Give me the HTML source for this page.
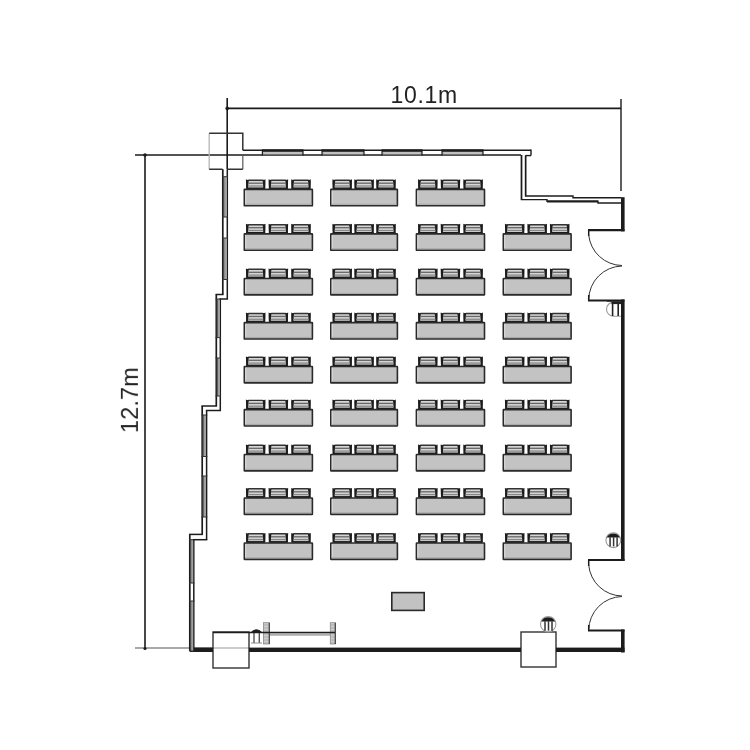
<!DOCTYPE html>
<html><head><meta charset="utf-8"><style>
html,body{margin:0;padding:0;background:#fff;}
body{width:750px;height:750px;overflow:hidden;}
svg{display:block;}
</style></head><body>
<svg width="750" height="750" viewBox="0 0 750 750">
<rect width="750" height="750" fill="#fff"/>
<line x1="227.2" y1="98" x2="227.2" y2="169" stroke="#1a1a1a" stroke-width="1.6"/>
<line x1="621" y1="99" x2="621" y2="191" stroke="#1a1a1a" stroke-width="1.4"/>
<line x1="227.2" y1="108.4" x2="621" y2="108.4" stroke="#1a1a1a" stroke-width="1.6"/>
<line x1="135" y1="155" x2="243" y2="155" stroke="#1a1a1a" stroke-width="1.6"/>
<line x1="145" y1="155" x2="145" y2="649" stroke="#1a1a1a" stroke-width="1.6"/>
<line x1="135" y1="648" x2="213" y2="648" stroke="#555" stroke-width="1.2"/>
<line x1="213" y1="648" x2="249" y2="648" stroke="#999" stroke-width="1.0"/>
<circle cx="227.2" cy="108.4" r="1.8" fill="#1c1c1c"/>
<circle cx="145" cy="155" r="1.8" fill="#1c1c1c"/>
<circle cx="145" cy="648.5" r="1.6" fill="#1c1c1c"/>
<defs><filter id="gs" x="-5%" y="-5%" width="110%" height="110%"><feOffset dx="0" dy="0"/></filter></defs>
<text filter="url(#gs)" x="390.4" y="103.2" font-family="Liberation Sans" font-size="23" textLength="66.8" lengthAdjust="spacing" fill="#222">10.1m</text>
<text filter="url(#gs)" transform="translate(137.9,433.1) rotate(-90)" font-family="Liberation Sans" font-size="23.5" textLength="65.8" lengthAdjust="spacing" fill="#222">12.7m</text>
<path d="M209.2,169.2 L209.2,133.2" fill="none" stroke="#b5b5b5" stroke-width="1.3"/>
<path d="M209.2,133.2 L242.8,133.2 L242.8,150.3" fill="none" stroke="#333" stroke-width="1.5"/>
<path d="M242.8,155 L242.8,169.2" fill="none" stroke="#666" stroke-width="1.3"/>
<path d="M242.8,169.2 L227.3,169.2 M222.5,169.2 L209.2,169.2" fill="none" stroke="#333" stroke-width="1.5"/>
<rect x="213" y="632" width="36" height="36" fill="none" stroke="#333" stroke-width="1.4" />
<rect x="521" y="632" width="35" height="35" fill="none" stroke="#333" stroke-width="1.4" />
<line x1="242.8" y1="150.3" x2="531" y2="150.3" stroke="#1c1c1c" stroke-width="1.6"/>
<line x1="243" y1="155" x2="521" y2="155" stroke="#1c1c1c" stroke-width="1.4"/>
<line x1="531" y1="149.6" x2="531" y2="155.6" stroke="#1c1c1c" stroke-width="1.4"/>
<line x1="525.6" y1="155.6" x2="531" y2="155.6" stroke="#1c1c1c" stroke-width="1.4"/>
<rect x="262.4" y="149.3" width="40.60000000000002" height="2.6" fill="#1c1c1c" stroke="none" stroke-width="0" />
<rect x="262.4" y="151.9" width="40.60000000000002" height="2.4" fill="#b4b4b4" stroke="none" stroke-width="0" />
<line x1="264.4" y1="153.0" x2="301" y2="153.0" stroke="#d8d8d8" stroke-width="0.7"/>
<line x1="262.4" y1="149.5" x2="262.4" y2="155.5" stroke="#1c1c1c" stroke-width="1.2"/>
<line x1="303" y1="149.5" x2="303" y2="155.5" stroke="#1c1c1c" stroke-width="1.2"/>
<rect x="322" y="149.3" width="42" height="2.6" fill="#1c1c1c" stroke="none" stroke-width="0" />
<rect x="322" y="151.9" width="42" height="2.4" fill="#b4b4b4" stroke="none" stroke-width="0" />
<line x1="324" y1="153.0" x2="362" y2="153.0" stroke="#d8d8d8" stroke-width="0.7"/>
<line x1="322" y1="149.5" x2="322" y2="155.5" stroke="#1c1c1c" stroke-width="1.2"/>
<line x1="364" y1="149.5" x2="364" y2="155.5" stroke="#1c1c1c" stroke-width="1.2"/>
<rect x="382" y="149.3" width="40" height="2.6" fill="#1c1c1c" stroke="none" stroke-width="0" />
<rect x="382" y="151.9" width="40" height="2.4" fill="#b4b4b4" stroke="none" stroke-width="0" />
<line x1="384" y1="153.0" x2="420" y2="153.0" stroke="#d8d8d8" stroke-width="0.7"/>
<line x1="382" y1="149.5" x2="382" y2="155.5" stroke="#1c1c1c" stroke-width="1.2"/>
<line x1="422" y1="149.5" x2="422" y2="155.5" stroke="#1c1c1c" stroke-width="1.2"/>
<rect x="442" y="149.3" width="41" height="2.6" fill="#1c1c1c" stroke="none" stroke-width="0" />
<rect x="442" y="151.9" width="41" height="2.4" fill="#b4b4b4" stroke="none" stroke-width="0" />
<line x1="444" y1="153.0" x2="481" y2="153.0" stroke="#d8d8d8" stroke-width="0.7"/>
<line x1="442" y1="149.5" x2="442" y2="155.5" stroke="#1c1c1c" stroke-width="1.2"/>
<line x1="483" y1="149.5" x2="483" y2="155.5" stroke="#1c1c1c" stroke-width="1.2"/>
<line x1="521.5" y1="155" x2="521.5" y2="200" stroke="#1c1c1c" stroke-width="1.4"/>
<line x1="525.6" y1="155.6" x2="525.6" y2="196" stroke="#1c1c1c" stroke-width="1.4"/>
<path d="M525.6,155.6 L525.6,196 L573,196 L573,197.8 L621,197.8" fill="none" stroke="#1c1c1c" stroke-width="1.4"/>
<path d="M521.5,155 L521.5,199.6 L547,199.6 L547,201.2 L598,201.2 L598,203 L621,203" fill="none" stroke="#1c1c1c" stroke-width="1.4"/>
<line x1="547" y1="201.4" x2="598" y2="201.4" stroke="#1c1c1c" stroke-width="2.0"/>
<rect x="621" y="197.2" width="3.6" height="34.20000000000002" fill="#1c1c1c" stroke="none" stroke-width="0" />
<line x1="588" y1="230.2" x2="624.5" y2="230.2" stroke="#1c1c1c" stroke-width="2.2"/>
<line x1="588.7" y1="229.5" x2="588.7" y2="236" stroke="#1c1c1c" stroke-width="1.5"/>
<path d="M588.7,235 A34,34 0 0 0 622,265.5" fill="none" stroke="#333" stroke-width="1"/>
<path d="M622,266 A34,34 0 0 0 588.7,299.5" fill="none" stroke="#333" stroke-width="1"/>
<line x1="588.7" y1="295" x2="588.7" y2="301" stroke="#1c1c1c" stroke-width="1.5"/>
<line x1="588" y1="300.5" x2="624.5" y2="300.5" stroke="#1c1c1c" stroke-width="2.2"/>
<rect x="621" y="299.5" width="3.6" height="261.5" fill="#1c1c1c" stroke="none" stroke-width="0" />
<line x1="588" y1="560" x2="624.5" y2="560" stroke="#1c1c1c" stroke-width="2.2"/>
<line x1="588.7" y1="559.2" x2="588.7" y2="566" stroke="#1c1c1c" stroke-width="1.5"/>
<path d="M588.7,565 A34,34 0 0 0 622,596" fill="none" stroke="#333" stroke-width="1"/>
<path d="M622,596.5 A34,34 0 0 0 588.7,630" fill="none" stroke="#333" stroke-width="1"/>
<line x1="588.7" y1="625" x2="588.7" y2="631" stroke="#1c1c1c" stroke-width="1.5"/>
<line x1="588" y1="630.5" x2="624.5" y2="630.5" stroke="#1c1c1c" stroke-width="2.2"/>
<rect x="621" y="629.5" width="3.6" height="23.0" fill="#1c1c1c" stroke="none" stroke-width="0" />
<rect x="190" y="647.6" width="23" height="4.4" fill="#1c1c1c" stroke="none" stroke-width="0" />
<rect x="249" y="647.6" width="272" height="4.4" fill="#1c1c1c" stroke="none" stroke-width="0" />
<rect x="556" y="647.6" width="68.5" height="4.4" fill="#1c1c1c" stroke="none" stroke-width="0" />
<line x1="222.8" y1="169.2" x2="222.8" y2="294.5" stroke="#1c1c1c" stroke-width="1.7"/>
<line x1="227.3" y1="169.2" x2="227.3" y2="299" stroke="#1c1c1c" stroke-width="1.5"/>
<rect x="223.4" y="176.7" width="3.3" height="40.30000000000001" fill="#a0a0a0" stroke="none" stroke-width="0" />
<line x1="223.70000000000002" y1="176.7" x2="223.70000000000002" y2="217" stroke="#333" stroke-width="0.9"/>
<line x1="222.05" y1="176.7" x2="228.05" y2="176.7" stroke="#333" stroke-width="1.0"/>
<line x1="222.05" y1="217" x2="228.05" y2="217" stroke="#333" stroke-width="1.0"/>
<rect x="223.4" y="238" width="3.3" height="41.5" fill="#a0a0a0" stroke="none" stroke-width="0" />
<line x1="223.70000000000002" y1="238" x2="223.70000000000002" y2="279.5" stroke="#333" stroke-width="0.9"/>
<line x1="222.05" y1="238" x2="228.05" y2="238" stroke="#333" stroke-width="1.0"/>
<line x1="222.05" y1="279.5" x2="228.05" y2="279.5" stroke="#333" stroke-width="1.0"/>
<line x1="216.3" y1="294.5" x2="216.3" y2="406" stroke="#1c1c1c" stroke-width="1.7"/>
<line x1="220.3" y1="299" x2="220.3" y2="410.5" stroke="#1c1c1c" stroke-width="1.5"/>
<rect x="216.9" y="299" width="2.8" height="38.60000000000002" fill="#a0a0a0" stroke="none" stroke-width="0" />
<line x1="217.20000000000002" y1="299" x2="217.20000000000002" y2="337.6" stroke="#333" stroke-width="0.9"/>
<line x1="215.55" y1="299" x2="221.05" y2="299" stroke="#333" stroke-width="1.0"/>
<line x1="215.55" y1="337.6" x2="221.05" y2="337.6" stroke="#333" stroke-width="1.0"/>
<rect x="216.9" y="358" width="2.8" height="38" fill="#a0a0a0" stroke="none" stroke-width="0" />
<line x1="217.20000000000002" y1="358" x2="217.20000000000002" y2="396" stroke="#333" stroke-width="0.9"/>
<line x1="215.55" y1="358" x2="221.05" y2="358" stroke="#333" stroke-width="1.0"/>
<line x1="215.55" y1="396" x2="221.05" y2="396" stroke="#333" stroke-width="1.0"/>
<line x1="202.2" y1="406" x2="202.2" y2="534.4" stroke="#1c1c1c" stroke-width="1.7"/>
<line x1="206.6" y1="410.5" x2="206.6" y2="539.7" stroke="#1c1c1c" stroke-width="1.5"/>
<rect x="202.79999999999998" y="415" width="3.2000000000000055" height="41.5" fill="#a0a0a0" stroke="none" stroke-width="0" />
<line x1="203.1" y1="415" x2="203.1" y2="456.5" stroke="#333" stroke-width="0.9"/>
<line x1="201.45" y1="415" x2="207.35" y2="415" stroke="#333" stroke-width="1.0"/>
<line x1="201.45" y1="456.5" x2="207.35" y2="456.5" stroke="#333" stroke-width="1.0"/>
<rect x="202.79999999999998" y="476" width="3.2000000000000055" height="41" fill="#a0a0a0" stroke="none" stroke-width="0" />
<line x1="203.1" y1="476" x2="203.1" y2="517" stroke="#333" stroke-width="0.9"/>
<line x1="201.45" y1="476" x2="207.35" y2="476" stroke="#333" stroke-width="1.0"/>
<line x1="201.45" y1="517" x2="207.35" y2="517" stroke="#333" stroke-width="1.0"/>
<line x1="189.8" y1="534.4" x2="189.8" y2="651" stroke="#1c1c1c" stroke-width="1.7"/>
<line x1="193.8" y1="539.7" x2="193.8" y2="648" stroke="#1c1c1c" stroke-width="1.5"/>
<rect x="190.4" y="539.7" width="2.8" height="43.299999999999955" fill="#a0a0a0" stroke="none" stroke-width="0" />
<line x1="190.70000000000002" y1="539.7" x2="190.70000000000002" y2="583" stroke="#333" stroke-width="0.9"/>
<line x1="189.05" y1="539.7" x2="194.55" y2="539.7" stroke="#333" stroke-width="1.0"/>
<line x1="189.05" y1="583" x2="194.55" y2="583" stroke="#333" stroke-width="1.0"/>
<rect x="190.4" y="601" width="2.8" height="50" fill="#a0a0a0" stroke="none" stroke-width="0" />
<line x1="190.70000000000002" y1="601" x2="190.70000000000002" y2="651" stroke="#333" stroke-width="0.9"/>
<line x1="189.05" y1="601" x2="194.55" y2="601" stroke="#333" stroke-width="1.0"/>
<line x1="189.05" y1="651" x2="194.55" y2="651" stroke="#333" stroke-width="1.0"/>
<line x1="215.55" y1="294.5" x2="223.55" y2="294.5" stroke="#1c1c1c" stroke-width="1.5"/>
<line x1="219.55" y1="299" x2="228.05" y2="299" stroke="#1c1c1c" stroke-width="1.5"/>
<line x1="201.45" y1="406" x2="217.05" y2="406" stroke="#1c1c1c" stroke-width="1.5"/>
<line x1="205.85" y1="410.5" x2="221.05" y2="410.5" stroke="#1c1c1c" stroke-width="1.5"/>
<line x1="189.05" y1="534.4" x2="202.95" y2="534.4" stroke="#1c1c1c" stroke-width="1.5"/>
<line x1="193.05" y1="539.7" x2="207.35" y2="539.7" stroke="#1c1c1c" stroke-width="1.5"/>
<rect x="263.5" y="633.4" width="71.5" height="2.4" fill="#b0b0b0" stroke="none" stroke-width="0" />
<rect x="263.5" y="622.7" width="5.8" height="21.3" fill="#cfcfcf" stroke="#888" stroke-width="0.8" />
<line x1="264.0" y1="625" x2="268.8" y2="625" stroke="#999" stroke-width="0.7"/>
<line x1="264.0" y1="628" x2="268.8" y2="628" stroke="#999" stroke-width="0.7"/>
<line x1="264.0" y1="631" x2="268.8" y2="631" stroke="#999" stroke-width="0.7"/>
<line x1="264.0" y1="634" x2="268.8" y2="634" stroke="#999" stroke-width="0.7"/>
<line x1="264.0" y1="637" x2="268.8" y2="637" stroke="#999" stroke-width="0.7"/>
<line x1="264.0" y1="640" x2="268.8" y2="640" stroke="#999" stroke-width="0.7"/>
<line x1="264.0" y1="643" x2="268.8" y2="643" stroke="#999" stroke-width="0.7"/>
<line x1="269.3" y1="622.7" x2="269.3" y2="644" stroke="#444" stroke-width="1.2"/>
<rect x="330.3" y="622.7" width="5.0" height="21.3" fill="#cfcfcf" stroke="#888" stroke-width="0.8" />
<line x1="330.8" y1="625" x2="334.8" y2="625" stroke="#999" stroke-width="0.7"/>
<line x1="330.8" y1="628" x2="334.8" y2="628" stroke="#999" stroke-width="0.7"/>
<line x1="330.8" y1="631" x2="334.8" y2="631" stroke="#999" stroke-width="0.7"/>
<line x1="330.8" y1="634" x2="334.8" y2="634" stroke="#999" stroke-width="0.7"/>
<line x1="330.8" y1="637" x2="334.8" y2="637" stroke="#999" stroke-width="0.7"/>
<line x1="330.8" y1="640" x2="334.8" y2="640" stroke="#999" stroke-width="0.7"/>
<line x1="330.8" y1="643" x2="334.8" y2="643" stroke="#999" stroke-width="0.7"/>
<line x1="335.3" y1="622.7" x2="335.3" y2="644" stroke="#444" stroke-width="1.2"/>
<path d="M250.5,632.5 Q256,626 262.5,632.5 Z" fill="#1c1c1c"/>
<line x1="254" y1="633" x2="254" y2="643" stroke="#555" stroke-width="1.4"/>
<line x1="259.3" y1="633" x2="259.3" y2="643" stroke="#555" stroke-width="1.4"/>
<line x1="251" y1="643" x2="262" y2="643" stroke="#888" stroke-width="1.0"/>
<line x1="213" y1="632.5" x2="335" y2="632.5" stroke="#1c1c1c" stroke-width="1.6"/>
<path d="M621,302.2 L613.5,302.2 A7,7 0 0 0 613.5,316.2 L621,316.2" fill="#fff" stroke="#999" stroke-width="1.1"/>
<line x1="612.6" y1="302" x2="612.6" y2="316" stroke="#222" stroke-width="1.6"/>
<line x1="618.2" y1="302" x2="618.2" y2="316" stroke="#222" stroke-width="1.6"/>
<line x1="606.8" y1="301.2" x2="621" y2="301.2" stroke="#222" stroke-width="1.0"/>
<rect x="611.5" y="301.5" width="9.5" height="2.6" fill="#222" stroke="none" stroke-width="0" />
<circle cx="613.3" cy="540.2" r="7.4" fill="#fff" stroke="#9a9a9a" stroke-width="1.1"/>
<path d="M606.6999999999999,537.6 A7.4,7.4 0 0 1 619.9,537.6 Z" fill="#1c1c1c"/>
<line x1="610.0999999999999" y1="537.2" x2="610.0999999999999" y2="546.4" stroke="#333" stroke-width="1.5"/>
<line x1="613.5999999999999" y1="537.2" x2="613.5999999999999" y2="546.4" stroke="#333" stroke-width="1.5"/>
<line x1="617.0999999999999" y1="537.2" x2="617.0999999999999" y2="546.4" stroke="#333" stroke-width="1.5"/>
<circle cx="548.2" cy="624.2" r="7.7" fill="#fff" stroke="#9a9a9a" stroke-width="1.1"/>
<path d="M541.3,621.6 A7.7,7.7 0 0 1 555.1000000000001,621.6 Z" fill="#1c1c1c"/>
<line x1="545.0" y1="621.2" x2="545.0" y2="630.7" stroke="#333" stroke-width="1.5"/>
<line x1="548.5" y1="621.2" x2="548.5" y2="630.7" stroke="#333" stroke-width="1.5"/>
<line x1="552.0" y1="621.2" x2="552.0" y2="630.7" stroke="#333" stroke-width="1.5"/>
<g transform="translate(245.7,179.0)"><rect x="1.2" y="1.2" width="17.6" height="8.600000000000001" fill="#d6d6d6" stroke="#333" stroke-width="1.4" rx="2"/><path d="M0.2,0.3 L3.0,1.5 L2.3,9.8 L0.6,9.8 Z" fill="#1c1c1c"/><path d="M19.8,0.3 L17.0,1.5 L17.7,9.8 L19.4,9.8 Z" fill="#1c1c1c"/><line x1="2.6" y1="4.2" x2="17.4" y2="4.2" stroke="#666" stroke-width="1.3"/><line x1="2.6" y1="7.0" x2="17.4" y2="7.0" stroke="#888" stroke-width="1.3"/><line x1="0.5" y1="9.200000000000001" x2="19.5" y2="9.200000000000001" stroke="#1c1c1c" stroke-width="1.4"/></g>
<g transform="translate(268.34999999999997,179.0)"><rect x="1.2" y="1.2" width="17.6" height="8.600000000000001" fill="#d6d6d6" stroke="#333" stroke-width="1.4" rx="2"/><path d="M0.2,0.3 L3.0,1.5 L2.3,9.8 L0.6,9.8 Z" fill="#1c1c1c"/><path d="M19.8,0.3 L17.0,1.5 L17.7,9.8 L19.4,9.8 Z" fill="#1c1c1c"/><line x1="2.6" y1="4.2" x2="17.4" y2="4.2" stroke="#666" stroke-width="1.3"/><line x1="2.6" y1="7.0" x2="17.4" y2="7.0" stroke="#888" stroke-width="1.3"/><line x1="0.5" y1="9.200000000000001" x2="19.5" y2="9.200000000000001" stroke="#1c1c1c" stroke-width="1.4"/></g>
<g transform="translate(291.0,179.0)"><rect x="1.2" y="1.2" width="17.6" height="8.600000000000001" fill="#d6d6d6" stroke="#333" stroke-width="1.4" rx="2"/><path d="M0.2,0.3 L3.0,1.5 L2.3,9.8 L0.6,9.8 Z" fill="#1c1c1c"/><path d="M19.8,0.3 L17.0,1.5 L17.7,9.8 L19.4,9.8 Z" fill="#1c1c1c"/><line x1="2.6" y1="4.2" x2="17.4" y2="4.2" stroke="#666" stroke-width="1.3"/><line x1="2.6" y1="7.0" x2="17.4" y2="7.0" stroke="#888" stroke-width="1.3"/><line x1="0.5" y1="9.200000000000001" x2="19.5" y2="9.200000000000001" stroke="#1c1c1c" stroke-width="1.4"/></g>
<rect x="244.3" y="189.4" width="68.1" height="16.4" fill="#c3c3c3" stroke="#2a2a2a" stroke-width="1.6" rx="0.4"/>
<line x1="245.7" y1="190.7" x2="245.7" y2="204.5" stroke="#dcdcdc" stroke-width="1"/>
<line x1="245.1" y1="204.2" x2="311.59999999999997" y2="204.2" stroke="#a8a8a8" stroke-width="1"/>
<g transform="translate(332.2,179.0)"><rect x="1.2" y="1.2" width="17.6" height="8.600000000000001" fill="#d6d6d6" stroke="#333" stroke-width="1.4" rx="2"/><path d="M0.2,0.3 L3.0,1.5 L2.3,9.8 L0.6,9.8 Z" fill="#1c1c1c"/><path d="M19.8,0.3 L17.0,1.5 L17.7,9.8 L19.4,9.8 Z" fill="#1c1c1c"/><line x1="2.6" y1="4.2" x2="17.4" y2="4.2" stroke="#666" stroke-width="1.3"/><line x1="2.6" y1="7.0" x2="17.4" y2="7.0" stroke="#888" stroke-width="1.3"/><line x1="0.5" y1="9.200000000000001" x2="19.5" y2="9.200000000000001" stroke="#1c1c1c" stroke-width="1.4"/></g>
<g transform="translate(354.09999999999997,179.0)"><rect x="1.2" y="1.2" width="17.6" height="8.600000000000001" fill="#d6d6d6" stroke="#333" stroke-width="1.4" rx="2"/><path d="M0.2,0.3 L3.0,1.5 L2.3,9.8 L0.6,9.8 Z" fill="#1c1c1c"/><path d="M19.8,0.3 L17.0,1.5 L17.7,9.8 L19.4,9.8 Z" fill="#1c1c1c"/><line x1="2.6" y1="4.2" x2="17.4" y2="4.2" stroke="#666" stroke-width="1.3"/><line x1="2.6" y1="7.0" x2="17.4" y2="7.0" stroke="#888" stroke-width="1.3"/><line x1="0.5" y1="9.200000000000001" x2="19.5" y2="9.200000000000001" stroke="#1c1c1c" stroke-width="1.4"/></g>
<g transform="translate(376.0,179.0)"><rect x="1.2" y="1.2" width="17.6" height="8.600000000000001" fill="#d6d6d6" stroke="#333" stroke-width="1.4" rx="2"/><path d="M0.2,0.3 L3.0,1.5 L2.3,9.8 L0.6,9.8 Z" fill="#1c1c1c"/><path d="M19.8,0.3 L17.0,1.5 L17.7,9.8 L19.4,9.8 Z" fill="#1c1c1c"/><line x1="2.6" y1="4.2" x2="17.4" y2="4.2" stroke="#666" stroke-width="1.3"/><line x1="2.6" y1="7.0" x2="17.4" y2="7.0" stroke="#888" stroke-width="1.3"/><line x1="0.5" y1="9.200000000000001" x2="19.5" y2="9.200000000000001" stroke="#1c1c1c" stroke-width="1.4"/></g>
<rect x="330.8" y="189.4" width="66.6" height="16.4" fill="#c3c3c3" stroke="#2a2a2a" stroke-width="1.6" rx="0.4"/>
<line x1="332.20000000000005" y1="190.7" x2="332.20000000000005" y2="204.5" stroke="#dcdcdc" stroke-width="1"/>
<line x1="331.6" y1="204.2" x2="396.59999999999997" y2="204.2" stroke="#a8a8a8" stroke-width="1"/>
<g transform="translate(417.8,179.0)"><rect x="1.2" y="1.2" width="17.6" height="8.600000000000001" fill="#d6d6d6" stroke="#333" stroke-width="1.4" rx="2"/><path d="M0.2,0.3 L3.0,1.5 L2.3,9.8 L0.6,9.8 Z" fill="#1c1c1c"/><path d="M19.8,0.3 L17.0,1.5 L17.7,9.8 L19.4,9.8 Z" fill="#1c1c1c"/><line x1="2.6" y1="4.2" x2="17.4" y2="4.2" stroke="#666" stroke-width="1.3"/><line x1="2.6" y1="7.0" x2="17.4" y2="7.0" stroke="#888" stroke-width="1.3"/><line x1="0.5" y1="9.200000000000001" x2="19.5" y2="9.200000000000001" stroke="#1c1c1c" stroke-width="1.4"/></g>
<g transform="translate(440.45,179.0)"><rect x="1.2" y="1.2" width="17.6" height="8.600000000000001" fill="#d6d6d6" stroke="#333" stroke-width="1.4" rx="2"/><path d="M0.2,0.3 L3.0,1.5 L2.3,9.8 L0.6,9.8 Z" fill="#1c1c1c"/><path d="M19.8,0.3 L17.0,1.5 L17.7,9.8 L19.4,9.8 Z" fill="#1c1c1c"/><line x1="2.6" y1="4.2" x2="17.4" y2="4.2" stroke="#666" stroke-width="1.3"/><line x1="2.6" y1="7.0" x2="17.4" y2="7.0" stroke="#888" stroke-width="1.3"/><line x1="0.5" y1="9.200000000000001" x2="19.5" y2="9.200000000000001" stroke="#1c1c1c" stroke-width="1.4"/></g>
<g transform="translate(463.1,179.0)"><rect x="1.2" y="1.2" width="17.6" height="8.600000000000001" fill="#d6d6d6" stroke="#333" stroke-width="1.4" rx="2"/><path d="M0.2,0.3 L3.0,1.5 L2.3,9.8 L0.6,9.8 Z" fill="#1c1c1c"/><path d="M19.8,0.3 L17.0,1.5 L17.7,9.8 L19.4,9.8 Z" fill="#1c1c1c"/><line x1="2.6" y1="4.2" x2="17.4" y2="4.2" stroke="#666" stroke-width="1.3"/><line x1="2.6" y1="7.0" x2="17.4" y2="7.0" stroke="#888" stroke-width="1.3"/><line x1="0.5" y1="9.200000000000001" x2="19.5" y2="9.200000000000001" stroke="#1c1c1c" stroke-width="1.4"/></g>
<rect x="416.40000000000003" y="189.4" width="68.1" height="16.4" fill="#c3c3c3" stroke="#2a2a2a" stroke-width="1.6" rx="0.4"/>
<line x1="417.80000000000007" y1="190.7" x2="417.80000000000007" y2="204.5" stroke="#dcdcdc" stroke-width="1"/>
<line x1="417.20000000000005" y1="204.2" x2="483.7" y2="204.2" stroke="#a8a8a8" stroke-width="1"/>
<g transform="translate(245.7,223.5)"><rect x="1.2" y="1.2" width="17.6" height="8.600000000000001" fill="#d6d6d6" stroke="#333" stroke-width="1.4" rx="2"/><path d="M0.2,0.3 L3.0,1.5 L2.3,9.8 L0.6,9.8 Z" fill="#1c1c1c"/><path d="M19.8,0.3 L17.0,1.5 L17.7,9.8 L19.4,9.8 Z" fill="#1c1c1c"/><line x1="2.6" y1="4.2" x2="17.4" y2="4.2" stroke="#666" stroke-width="1.3"/><line x1="2.6" y1="7.0" x2="17.4" y2="7.0" stroke="#888" stroke-width="1.3"/><line x1="0.5" y1="9.200000000000001" x2="19.5" y2="9.200000000000001" stroke="#1c1c1c" stroke-width="1.4"/></g>
<g transform="translate(268.34999999999997,223.5)"><rect x="1.2" y="1.2" width="17.6" height="8.600000000000001" fill="#d6d6d6" stroke="#333" stroke-width="1.4" rx="2"/><path d="M0.2,0.3 L3.0,1.5 L2.3,9.8 L0.6,9.8 Z" fill="#1c1c1c"/><path d="M19.8,0.3 L17.0,1.5 L17.7,9.8 L19.4,9.8 Z" fill="#1c1c1c"/><line x1="2.6" y1="4.2" x2="17.4" y2="4.2" stroke="#666" stroke-width="1.3"/><line x1="2.6" y1="7.0" x2="17.4" y2="7.0" stroke="#888" stroke-width="1.3"/><line x1="0.5" y1="9.200000000000001" x2="19.5" y2="9.200000000000001" stroke="#1c1c1c" stroke-width="1.4"/></g>
<g transform="translate(291.0,223.5)"><rect x="1.2" y="1.2" width="17.6" height="8.600000000000001" fill="#d6d6d6" stroke="#333" stroke-width="1.4" rx="2"/><path d="M0.2,0.3 L3.0,1.5 L2.3,9.8 L0.6,9.8 Z" fill="#1c1c1c"/><path d="M19.8,0.3 L17.0,1.5 L17.7,9.8 L19.4,9.8 Z" fill="#1c1c1c"/><line x1="2.6" y1="4.2" x2="17.4" y2="4.2" stroke="#666" stroke-width="1.3"/><line x1="2.6" y1="7.0" x2="17.4" y2="7.0" stroke="#888" stroke-width="1.3"/><line x1="0.5" y1="9.200000000000001" x2="19.5" y2="9.200000000000001" stroke="#1c1c1c" stroke-width="1.4"/></g>
<rect x="244.3" y="233.9" width="68.1" height="16.4" fill="#c3c3c3" stroke="#2a2a2a" stroke-width="1.6" rx="0.4"/>
<line x1="245.7" y1="235.2" x2="245.7" y2="249.0" stroke="#dcdcdc" stroke-width="1"/>
<line x1="245.1" y1="248.7" x2="311.59999999999997" y2="248.7" stroke="#a8a8a8" stroke-width="1"/>
<g transform="translate(332.2,223.5)"><rect x="1.2" y="1.2" width="17.6" height="8.600000000000001" fill="#d6d6d6" stroke="#333" stroke-width="1.4" rx="2"/><path d="M0.2,0.3 L3.0,1.5 L2.3,9.8 L0.6,9.8 Z" fill="#1c1c1c"/><path d="M19.8,0.3 L17.0,1.5 L17.7,9.8 L19.4,9.8 Z" fill="#1c1c1c"/><line x1="2.6" y1="4.2" x2="17.4" y2="4.2" stroke="#666" stroke-width="1.3"/><line x1="2.6" y1="7.0" x2="17.4" y2="7.0" stroke="#888" stroke-width="1.3"/><line x1="0.5" y1="9.200000000000001" x2="19.5" y2="9.200000000000001" stroke="#1c1c1c" stroke-width="1.4"/></g>
<g transform="translate(354.09999999999997,223.5)"><rect x="1.2" y="1.2" width="17.6" height="8.600000000000001" fill="#d6d6d6" stroke="#333" stroke-width="1.4" rx="2"/><path d="M0.2,0.3 L3.0,1.5 L2.3,9.8 L0.6,9.8 Z" fill="#1c1c1c"/><path d="M19.8,0.3 L17.0,1.5 L17.7,9.8 L19.4,9.8 Z" fill="#1c1c1c"/><line x1="2.6" y1="4.2" x2="17.4" y2="4.2" stroke="#666" stroke-width="1.3"/><line x1="2.6" y1="7.0" x2="17.4" y2="7.0" stroke="#888" stroke-width="1.3"/><line x1="0.5" y1="9.200000000000001" x2="19.5" y2="9.200000000000001" stroke="#1c1c1c" stroke-width="1.4"/></g>
<g transform="translate(376.0,223.5)"><rect x="1.2" y="1.2" width="17.6" height="8.600000000000001" fill="#d6d6d6" stroke="#333" stroke-width="1.4" rx="2"/><path d="M0.2,0.3 L3.0,1.5 L2.3,9.8 L0.6,9.8 Z" fill="#1c1c1c"/><path d="M19.8,0.3 L17.0,1.5 L17.7,9.8 L19.4,9.8 Z" fill="#1c1c1c"/><line x1="2.6" y1="4.2" x2="17.4" y2="4.2" stroke="#666" stroke-width="1.3"/><line x1="2.6" y1="7.0" x2="17.4" y2="7.0" stroke="#888" stroke-width="1.3"/><line x1="0.5" y1="9.200000000000001" x2="19.5" y2="9.200000000000001" stroke="#1c1c1c" stroke-width="1.4"/></g>
<rect x="330.8" y="233.9" width="66.6" height="16.4" fill="#c3c3c3" stroke="#2a2a2a" stroke-width="1.6" rx="0.4"/>
<line x1="332.20000000000005" y1="235.2" x2="332.20000000000005" y2="249.0" stroke="#dcdcdc" stroke-width="1"/>
<line x1="331.6" y1="248.7" x2="396.59999999999997" y2="248.7" stroke="#a8a8a8" stroke-width="1"/>
<g transform="translate(417.8,223.5)"><rect x="1.2" y="1.2" width="17.6" height="8.600000000000001" fill="#d6d6d6" stroke="#333" stroke-width="1.4" rx="2"/><path d="M0.2,0.3 L3.0,1.5 L2.3,9.8 L0.6,9.8 Z" fill="#1c1c1c"/><path d="M19.8,0.3 L17.0,1.5 L17.7,9.8 L19.4,9.8 Z" fill="#1c1c1c"/><line x1="2.6" y1="4.2" x2="17.4" y2="4.2" stroke="#666" stroke-width="1.3"/><line x1="2.6" y1="7.0" x2="17.4" y2="7.0" stroke="#888" stroke-width="1.3"/><line x1="0.5" y1="9.200000000000001" x2="19.5" y2="9.200000000000001" stroke="#1c1c1c" stroke-width="1.4"/></g>
<g transform="translate(440.45,223.5)"><rect x="1.2" y="1.2" width="17.6" height="8.600000000000001" fill="#d6d6d6" stroke="#333" stroke-width="1.4" rx="2"/><path d="M0.2,0.3 L3.0,1.5 L2.3,9.8 L0.6,9.8 Z" fill="#1c1c1c"/><path d="M19.8,0.3 L17.0,1.5 L17.7,9.8 L19.4,9.8 Z" fill="#1c1c1c"/><line x1="2.6" y1="4.2" x2="17.4" y2="4.2" stroke="#666" stroke-width="1.3"/><line x1="2.6" y1="7.0" x2="17.4" y2="7.0" stroke="#888" stroke-width="1.3"/><line x1="0.5" y1="9.200000000000001" x2="19.5" y2="9.200000000000001" stroke="#1c1c1c" stroke-width="1.4"/></g>
<g transform="translate(463.1,223.5)"><rect x="1.2" y="1.2" width="17.6" height="8.600000000000001" fill="#d6d6d6" stroke="#333" stroke-width="1.4" rx="2"/><path d="M0.2,0.3 L3.0,1.5 L2.3,9.8 L0.6,9.8 Z" fill="#1c1c1c"/><path d="M19.8,0.3 L17.0,1.5 L17.7,9.8 L19.4,9.8 Z" fill="#1c1c1c"/><line x1="2.6" y1="4.2" x2="17.4" y2="4.2" stroke="#666" stroke-width="1.3"/><line x1="2.6" y1="7.0" x2="17.4" y2="7.0" stroke="#888" stroke-width="1.3"/><line x1="0.5" y1="9.200000000000001" x2="19.5" y2="9.200000000000001" stroke="#1c1c1c" stroke-width="1.4"/></g>
<rect x="416.40000000000003" y="233.9" width="68.1" height="16.4" fill="#c3c3c3" stroke="#2a2a2a" stroke-width="1.6" rx="0.4"/>
<line x1="417.80000000000007" y1="235.2" x2="417.80000000000007" y2="249.0" stroke="#dcdcdc" stroke-width="1"/>
<line x1="417.20000000000005" y1="248.7" x2="483.7" y2="248.7" stroke="#a8a8a8" stroke-width="1"/>
<g transform="translate(504.7,223.5)"><rect x="1.2" y="1.2" width="17.6" height="8.600000000000001" fill="#d6d6d6" stroke="#333" stroke-width="1.4" rx="2"/><path d="M0.2,0.3 L3.0,1.5 L2.3,9.8 L0.6,9.8 Z" fill="#1c1c1c"/><path d="M19.8,0.3 L17.0,1.5 L17.7,9.8 L19.4,9.8 Z" fill="#1c1c1c"/><line x1="2.6" y1="4.2" x2="17.4" y2="4.2" stroke="#666" stroke-width="1.3"/><line x1="2.6" y1="7.0" x2="17.4" y2="7.0" stroke="#888" stroke-width="1.3"/><line x1="0.5" y1="9.200000000000001" x2="19.5" y2="9.200000000000001" stroke="#1c1c1c" stroke-width="1.4"/></g>
<g transform="translate(527.1999999999999,223.5)"><rect x="1.2" y="1.2" width="17.6" height="8.600000000000001" fill="#d6d6d6" stroke="#333" stroke-width="1.4" rx="2"/><path d="M0.2,0.3 L3.0,1.5 L2.3,9.8 L0.6,9.8 Z" fill="#1c1c1c"/><path d="M19.8,0.3 L17.0,1.5 L17.7,9.8 L19.4,9.8 Z" fill="#1c1c1c"/><line x1="2.6" y1="4.2" x2="17.4" y2="4.2" stroke="#666" stroke-width="1.3"/><line x1="2.6" y1="7.0" x2="17.4" y2="7.0" stroke="#888" stroke-width="1.3"/><line x1="0.5" y1="9.200000000000001" x2="19.5" y2="9.200000000000001" stroke="#1c1c1c" stroke-width="1.4"/></g>
<g transform="translate(549.6999999999999,223.5)"><rect x="1.2" y="1.2" width="17.6" height="8.600000000000001" fill="#d6d6d6" stroke="#333" stroke-width="1.4" rx="2"/><path d="M0.2,0.3 L3.0,1.5 L2.3,9.8 L0.6,9.8 Z" fill="#1c1c1c"/><path d="M19.8,0.3 L17.0,1.5 L17.7,9.8 L19.4,9.8 Z" fill="#1c1c1c"/><line x1="2.6" y1="4.2" x2="17.4" y2="4.2" stroke="#666" stroke-width="1.3"/><line x1="2.6" y1="7.0" x2="17.4" y2="7.0" stroke="#888" stroke-width="1.3"/><line x1="0.5" y1="9.200000000000001" x2="19.5" y2="9.200000000000001" stroke="#1c1c1c" stroke-width="1.4"/></g>
<rect x="503.3" y="233.9" width="67.79999999999998" height="16.4" fill="#c3c3c3" stroke="#2a2a2a" stroke-width="1.6" rx="0.4"/>
<line x1="504.70000000000005" y1="235.2" x2="504.70000000000005" y2="249.0" stroke="#dcdcdc" stroke-width="1"/>
<line x1="504.1" y1="248.7" x2="570.3" y2="248.7" stroke="#a8a8a8" stroke-width="1"/>
<g transform="translate(245.7,268.09999999999997)"><rect x="1.2" y="1.2" width="17.6" height="8.600000000000001" fill="#d6d6d6" stroke="#333" stroke-width="1.4" rx="2"/><path d="M0.2,0.3 L3.0,1.5 L2.3,9.8 L0.6,9.8 Z" fill="#1c1c1c"/><path d="M19.8,0.3 L17.0,1.5 L17.7,9.8 L19.4,9.8 Z" fill="#1c1c1c"/><line x1="2.6" y1="4.2" x2="17.4" y2="4.2" stroke="#666" stroke-width="1.3"/><line x1="2.6" y1="7.0" x2="17.4" y2="7.0" stroke="#888" stroke-width="1.3"/><line x1="0.5" y1="9.200000000000001" x2="19.5" y2="9.200000000000001" stroke="#1c1c1c" stroke-width="1.4"/></g>
<g transform="translate(268.34999999999997,268.09999999999997)"><rect x="1.2" y="1.2" width="17.6" height="8.600000000000001" fill="#d6d6d6" stroke="#333" stroke-width="1.4" rx="2"/><path d="M0.2,0.3 L3.0,1.5 L2.3,9.8 L0.6,9.8 Z" fill="#1c1c1c"/><path d="M19.8,0.3 L17.0,1.5 L17.7,9.8 L19.4,9.8 Z" fill="#1c1c1c"/><line x1="2.6" y1="4.2" x2="17.4" y2="4.2" stroke="#666" stroke-width="1.3"/><line x1="2.6" y1="7.0" x2="17.4" y2="7.0" stroke="#888" stroke-width="1.3"/><line x1="0.5" y1="9.200000000000001" x2="19.5" y2="9.200000000000001" stroke="#1c1c1c" stroke-width="1.4"/></g>
<g transform="translate(291.0,268.09999999999997)"><rect x="1.2" y="1.2" width="17.6" height="8.600000000000001" fill="#d6d6d6" stroke="#333" stroke-width="1.4" rx="2"/><path d="M0.2,0.3 L3.0,1.5 L2.3,9.8 L0.6,9.8 Z" fill="#1c1c1c"/><path d="M19.8,0.3 L17.0,1.5 L17.7,9.8 L19.4,9.8 Z" fill="#1c1c1c"/><line x1="2.6" y1="4.2" x2="17.4" y2="4.2" stroke="#666" stroke-width="1.3"/><line x1="2.6" y1="7.0" x2="17.4" y2="7.0" stroke="#888" stroke-width="1.3"/><line x1="0.5" y1="9.200000000000001" x2="19.5" y2="9.200000000000001" stroke="#1c1c1c" stroke-width="1.4"/></g>
<rect x="244.3" y="278.5" width="68.1" height="16.4" fill="#c3c3c3" stroke="#2a2a2a" stroke-width="1.6" rx="0.4"/>
<line x1="245.7" y1="279.8" x2="245.7" y2="293.59999999999997" stroke="#dcdcdc" stroke-width="1"/>
<line x1="245.1" y1="293.29999999999995" x2="311.59999999999997" y2="293.29999999999995" stroke="#a8a8a8" stroke-width="1"/>
<g transform="translate(332.2,268.09999999999997)"><rect x="1.2" y="1.2" width="17.6" height="8.600000000000001" fill="#d6d6d6" stroke="#333" stroke-width="1.4" rx="2"/><path d="M0.2,0.3 L3.0,1.5 L2.3,9.8 L0.6,9.8 Z" fill="#1c1c1c"/><path d="M19.8,0.3 L17.0,1.5 L17.7,9.8 L19.4,9.8 Z" fill="#1c1c1c"/><line x1="2.6" y1="4.2" x2="17.4" y2="4.2" stroke="#666" stroke-width="1.3"/><line x1="2.6" y1="7.0" x2="17.4" y2="7.0" stroke="#888" stroke-width="1.3"/><line x1="0.5" y1="9.200000000000001" x2="19.5" y2="9.200000000000001" stroke="#1c1c1c" stroke-width="1.4"/></g>
<g transform="translate(354.09999999999997,268.09999999999997)"><rect x="1.2" y="1.2" width="17.6" height="8.600000000000001" fill="#d6d6d6" stroke="#333" stroke-width="1.4" rx="2"/><path d="M0.2,0.3 L3.0,1.5 L2.3,9.8 L0.6,9.8 Z" fill="#1c1c1c"/><path d="M19.8,0.3 L17.0,1.5 L17.7,9.8 L19.4,9.8 Z" fill="#1c1c1c"/><line x1="2.6" y1="4.2" x2="17.4" y2="4.2" stroke="#666" stroke-width="1.3"/><line x1="2.6" y1="7.0" x2="17.4" y2="7.0" stroke="#888" stroke-width="1.3"/><line x1="0.5" y1="9.200000000000001" x2="19.5" y2="9.200000000000001" stroke="#1c1c1c" stroke-width="1.4"/></g>
<g transform="translate(376.0,268.09999999999997)"><rect x="1.2" y="1.2" width="17.6" height="8.600000000000001" fill="#d6d6d6" stroke="#333" stroke-width="1.4" rx="2"/><path d="M0.2,0.3 L3.0,1.5 L2.3,9.8 L0.6,9.8 Z" fill="#1c1c1c"/><path d="M19.8,0.3 L17.0,1.5 L17.7,9.8 L19.4,9.8 Z" fill="#1c1c1c"/><line x1="2.6" y1="4.2" x2="17.4" y2="4.2" stroke="#666" stroke-width="1.3"/><line x1="2.6" y1="7.0" x2="17.4" y2="7.0" stroke="#888" stroke-width="1.3"/><line x1="0.5" y1="9.200000000000001" x2="19.5" y2="9.200000000000001" stroke="#1c1c1c" stroke-width="1.4"/></g>
<rect x="330.8" y="278.5" width="66.6" height="16.4" fill="#c3c3c3" stroke="#2a2a2a" stroke-width="1.6" rx="0.4"/>
<line x1="332.20000000000005" y1="279.8" x2="332.20000000000005" y2="293.59999999999997" stroke="#dcdcdc" stroke-width="1"/>
<line x1="331.6" y1="293.29999999999995" x2="396.59999999999997" y2="293.29999999999995" stroke="#a8a8a8" stroke-width="1"/>
<g transform="translate(417.8,268.09999999999997)"><rect x="1.2" y="1.2" width="17.6" height="8.600000000000001" fill="#d6d6d6" stroke="#333" stroke-width="1.4" rx="2"/><path d="M0.2,0.3 L3.0,1.5 L2.3,9.8 L0.6,9.8 Z" fill="#1c1c1c"/><path d="M19.8,0.3 L17.0,1.5 L17.7,9.8 L19.4,9.8 Z" fill="#1c1c1c"/><line x1="2.6" y1="4.2" x2="17.4" y2="4.2" stroke="#666" stroke-width="1.3"/><line x1="2.6" y1="7.0" x2="17.4" y2="7.0" stroke="#888" stroke-width="1.3"/><line x1="0.5" y1="9.200000000000001" x2="19.5" y2="9.200000000000001" stroke="#1c1c1c" stroke-width="1.4"/></g>
<g transform="translate(440.45,268.09999999999997)"><rect x="1.2" y="1.2" width="17.6" height="8.600000000000001" fill="#d6d6d6" stroke="#333" stroke-width="1.4" rx="2"/><path d="M0.2,0.3 L3.0,1.5 L2.3,9.8 L0.6,9.8 Z" fill="#1c1c1c"/><path d="M19.8,0.3 L17.0,1.5 L17.7,9.8 L19.4,9.8 Z" fill="#1c1c1c"/><line x1="2.6" y1="4.2" x2="17.4" y2="4.2" stroke="#666" stroke-width="1.3"/><line x1="2.6" y1="7.0" x2="17.4" y2="7.0" stroke="#888" stroke-width="1.3"/><line x1="0.5" y1="9.200000000000001" x2="19.5" y2="9.200000000000001" stroke="#1c1c1c" stroke-width="1.4"/></g>
<g transform="translate(463.1,268.09999999999997)"><rect x="1.2" y="1.2" width="17.6" height="8.600000000000001" fill="#d6d6d6" stroke="#333" stroke-width="1.4" rx="2"/><path d="M0.2,0.3 L3.0,1.5 L2.3,9.8 L0.6,9.8 Z" fill="#1c1c1c"/><path d="M19.8,0.3 L17.0,1.5 L17.7,9.8 L19.4,9.8 Z" fill="#1c1c1c"/><line x1="2.6" y1="4.2" x2="17.4" y2="4.2" stroke="#666" stroke-width="1.3"/><line x1="2.6" y1="7.0" x2="17.4" y2="7.0" stroke="#888" stroke-width="1.3"/><line x1="0.5" y1="9.200000000000001" x2="19.5" y2="9.200000000000001" stroke="#1c1c1c" stroke-width="1.4"/></g>
<rect x="416.40000000000003" y="278.5" width="68.1" height="16.4" fill="#c3c3c3" stroke="#2a2a2a" stroke-width="1.6" rx="0.4"/>
<line x1="417.80000000000007" y1="279.8" x2="417.80000000000007" y2="293.59999999999997" stroke="#dcdcdc" stroke-width="1"/>
<line x1="417.20000000000005" y1="293.29999999999995" x2="483.7" y2="293.29999999999995" stroke="#a8a8a8" stroke-width="1"/>
<g transform="translate(504.7,268.09999999999997)"><rect x="1.2" y="1.2" width="17.6" height="8.600000000000001" fill="#d6d6d6" stroke="#333" stroke-width="1.4" rx="2"/><path d="M0.2,0.3 L3.0,1.5 L2.3,9.8 L0.6,9.8 Z" fill="#1c1c1c"/><path d="M19.8,0.3 L17.0,1.5 L17.7,9.8 L19.4,9.8 Z" fill="#1c1c1c"/><line x1="2.6" y1="4.2" x2="17.4" y2="4.2" stroke="#666" stroke-width="1.3"/><line x1="2.6" y1="7.0" x2="17.4" y2="7.0" stroke="#888" stroke-width="1.3"/><line x1="0.5" y1="9.200000000000001" x2="19.5" y2="9.200000000000001" stroke="#1c1c1c" stroke-width="1.4"/></g>
<g transform="translate(527.1999999999999,268.09999999999997)"><rect x="1.2" y="1.2" width="17.6" height="8.600000000000001" fill="#d6d6d6" stroke="#333" stroke-width="1.4" rx="2"/><path d="M0.2,0.3 L3.0,1.5 L2.3,9.8 L0.6,9.8 Z" fill="#1c1c1c"/><path d="M19.8,0.3 L17.0,1.5 L17.7,9.8 L19.4,9.8 Z" fill="#1c1c1c"/><line x1="2.6" y1="4.2" x2="17.4" y2="4.2" stroke="#666" stroke-width="1.3"/><line x1="2.6" y1="7.0" x2="17.4" y2="7.0" stroke="#888" stroke-width="1.3"/><line x1="0.5" y1="9.200000000000001" x2="19.5" y2="9.200000000000001" stroke="#1c1c1c" stroke-width="1.4"/></g>
<g transform="translate(549.6999999999999,268.09999999999997)"><rect x="1.2" y="1.2" width="17.6" height="8.600000000000001" fill="#d6d6d6" stroke="#333" stroke-width="1.4" rx="2"/><path d="M0.2,0.3 L3.0,1.5 L2.3,9.8 L0.6,9.8 Z" fill="#1c1c1c"/><path d="M19.8,0.3 L17.0,1.5 L17.7,9.8 L19.4,9.8 Z" fill="#1c1c1c"/><line x1="2.6" y1="4.2" x2="17.4" y2="4.2" stroke="#666" stroke-width="1.3"/><line x1="2.6" y1="7.0" x2="17.4" y2="7.0" stroke="#888" stroke-width="1.3"/><line x1="0.5" y1="9.200000000000001" x2="19.5" y2="9.200000000000001" stroke="#1c1c1c" stroke-width="1.4"/></g>
<rect x="503.3" y="278.5" width="67.79999999999998" height="16.4" fill="#c3c3c3" stroke="#2a2a2a" stroke-width="1.6" rx="0.4"/>
<line x1="504.70000000000005" y1="279.8" x2="504.70000000000005" y2="293.59999999999997" stroke="#dcdcdc" stroke-width="1"/>
<line x1="504.1" y1="293.29999999999995" x2="570.3" y2="293.29999999999995" stroke="#a8a8a8" stroke-width="1"/>
<g transform="translate(245.7,312.25)"><rect x="1.2" y="1.2" width="17.6" height="8.600000000000001" fill="#d6d6d6" stroke="#333" stroke-width="1.4" rx="2"/><path d="M0.2,0.3 L3.0,1.5 L2.3,9.8 L0.6,9.8 Z" fill="#1c1c1c"/><path d="M19.8,0.3 L17.0,1.5 L17.7,9.8 L19.4,9.8 Z" fill="#1c1c1c"/><line x1="2.6" y1="4.2" x2="17.4" y2="4.2" stroke="#666" stroke-width="1.3"/><line x1="2.6" y1="7.0" x2="17.4" y2="7.0" stroke="#888" stroke-width="1.3"/><line x1="0.5" y1="9.200000000000001" x2="19.5" y2="9.200000000000001" stroke="#1c1c1c" stroke-width="1.4"/></g>
<g transform="translate(268.34999999999997,312.25)"><rect x="1.2" y="1.2" width="17.6" height="8.600000000000001" fill="#d6d6d6" stroke="#333" stroke-width="1.4" rx="2"/><path d="M0.2,0.3 L3.0,1.5 L2.3,9.8 L0.6,9.8 Z" fill="#1c1c1c"/><path d="M19.8,0.3 L17.0,1.5 L17.7,9.8 L19.4,9.8 Z" fill="#1c1c1c"/><line x1="2.6" y1="4.2" x2="17.4" y2="4.2" stroke="#666" stroke-width="1.3"/><line x1="2.6" y1="7.0" x2="17.4" y2="7.0" stroke="#888" stroke-width="1.3"/><line x1="0.5" y1="9.200000000000001" x2="19.5" y2="9.200000000000001" stroke="#1c1c1c" stroke-width="1.4"/></g>
<g transform="translate(291.0,312.25)"><rect x="1.2" y="1.2" width="17.6" height="8.600000000000001" fill="#d6d6d6" stroke="#333" stroke-width="1.4" rx="2"/><path d="M0.2,0.3 L3.0,1.5 L2.3,9.8 L0.6,9.8 Z" fill="#1c1c1c"/><path d="M19.8,0.3 L17.0,1.5 L17.7,9.8 L19.4,9.8 Z" fill="#1c1c1c"/><line x1="2.6" y1="4.2" x2="17.4" y2="4.2" stroke="#666" stroke-width="1.3"/><line x1="2.6" y1="7.0" x2="17.4" y2="7.0" stroke="#888" stroke-width="1.3"/><line x1="0.5" y1="9.200000000000001" x2="19.5" y2="9.200000000000001" stroke="#1c1c1c" stroke-width="1.4"/></g>
<rect x="244.3" y="322.65000000000003" width="68.1" height="16.4" fill="#c3c3c3" stroke="#2a2a2a" stroke-width="1.6" rx="0.4"/>
<line x1="245.7" y1="323.95000000000005" x2="245.7" y2="337.75" stroke="#dcdcdc" stroke-width="1"/>
<line x1="245.1" y1="337.45" x2="311.59999999999997" y2="337.45" stroke="#a8a8a8" stroke-width="1"/>
<g transform="translate(332.2,312.25)"><rect x="1.2" y="1.2" width="17.6" height="8.600000000000001" fill="#d6d6d6" stroke="#333" stroke-width="1.4" rx="2"/><path d="M0.2,0.3 L3.0,1.5 L2.3,9.8 L0.6,9.8 Z" fill="#1c1c1c"/><path d="M19.8,0.3 L17.0,1.5 L17.7,9.8 L19.4,9.8 Z" fill="#1c1c1c"/><line x1="2.6" y1="4.2" x2="17.4" y2="4.2" stroke="#666" stroke-width="1.3"/><line x1="2.6" y1="7.0" x2="17.4" y2="7.0" stroke="#888" stroke-width="1.3"/><line x1="0.5" y1="9.200000000000001" x2="19.5" y2="9.200000000000001" stroke="#1c1c1c" stroke-width="1.4"/></g>
<g transform="translate(354.09999999999997,312.25)"><rect x="1.2" y="1.2" width="17.6" height="8.600000000000001" fill="#d6d6d6" stroke="#333" stroke-width="1.4" rx="2"/><path d="M0.2,0.3 L3.0,1.5 L2.3,9.8 L0.6,9.8 Z" fill="#1c1c1c"/><path d="M19.8,0.3 L17.0,1.5 L17.7,9.8 L19.4,9.8 Z" fill="#1c1c1c"/><line x1="2.6" y1="4.2" x2="17.4" y2="4.2" stroke="#666" stroke-width="1.3"/><line x1="2.6" y1="7.0" x2="17.4" y2="7.0" stroke="#888" stroke-width="1.3"/><line x1="0.5" y1="9.200000000000001" x2="19.5" y2="9.200000000000001" stroke="#1c1c1c" stroke-width="1.4"/></g>
<g transform="translate(376.0,312.25)"><rect x="1.2" y="1.2" width="17.6" height="8.600000000000001" fill="#d6d6d6" stroke="#333" stroke-width="1.4" rx="2"/><path d="M0.2,0.3 L3.0,1.5 L2.3,9.8 L0.6,9.8 Z" fill="#1c1c1c"/><path d="M19.8,0.3 L17.0,1.5 L17.7,9.8 L19.4,9.8 Z" fill="#1c1c1c"/><line x1="2.6" y1="4.2" x2="17.4" y2="4.2" stroke="#666" stroke-width="1.3"/><line x1="2.6" y1="7.0" x2="17.4" y2="7.0" stroke="#888" stroke-width="1.3"/><line x1="0.5" y1="9.200000000000001" x2="19.5" y2="9.200000000000001" stroke="#1c1c1c" stroke-width="1.4"/></g>
<rect x="330.8" y="322.65000000000003" width="66.6" height="16.4" fill="#c3c3c3" stroke="#2a2a2a" stroke-width="1.6" rx="0.4"/>
<line x1="332.20000000000005" y1="323.95000000000005" x2="332.20000000000005" y2="337.75" stroke="#dcdcdc" stroke-width="1"/>
<line x1="331.6" y1="337.45" x2="396.59999999999997" y2="337.45" stroke="#a8a8a8" stroke-width="1"/>
<g transform="translate(417.8,312.25)"><rect x="1.2" y="1.2" width="17.6" height="8.600000000000001" fill="#d6d6d6" stroke="#333" stroke-width="1.4" rx="2"/><path d="M0.2,0.3 L3.0,1.5 L2.3,9.8 L0.6,9.8 Z" fill="#1c1c1c"/><path d="M19.8,0.3 L17.0,1.5 L17.7,9.8 L19.4,9.8 Z" fill="#1c1c1c"/><line x1="2.6" y1="4.2" x2="17.4" y2="4.2" stroke="#666" stroke-width="1.3"/><line x1="2.6" y1="7.0" x2="17.4" y2="7.0" stroke="#888" stroke-width="1.3"/><line x1="0.5" y1="9.200000000000001" x2="19.5" y2="9.200000000000001" stroke="#1c1c1c" stroke-width="1.4"/></g>
<g transform="translate(440.45,312.25)"><rect x="1.2" y="1.2" width="17.6" height="8.600000000000001" fill="#d6d6d6" stroke="#333" stroke-width="1.4" rx="2"/><path d="M0.2,0.3 L3.0,1.5 L2.3,9.8 L0.6,9.8 Z" fill="#1c1c1c"/><path d="M19.8,0.3 L17.0,1.5 L17.7,9.8 L19.4,9.8 Z" fill="#1c1c1c"/><line x1="2.6" y1="4.2" x2="17.4" y2="4.2" stroke="#666" stroke-width="1.3"/><line x1="2.6" y1="7.0" x2="17.4" y2="7.0" stroke="#888" stroke-width="1.3"/><line x1="0.5" y1="9.200000000000001" x2="19.5" y2="9.200000000000001" stroke="#1c1c1c" stroke-width="1.4"/></g>
<g transform="translate(463.1,312.25)"><rect x="1.2" y="1.2" width="17.6" height="8.600000000000001" fill="#d6d6d6" stroke="#333" stroke-width="1.4" rx="2"/><path d="M0.2,0.3 L3.0,1.5 L2.3,9.8 L0.6,9.8 Z" fill="#1c1c1c"/><path d="M19.8,0.3 L17.0,1.5 L17.7,9.8 L19.4,9.8 Z" fill="#1c1c1c"/><line x1="2.6" y1="4.2" x2="17.4" y2="4.2" stroke="#666" stroke-width="1.3"/><line x1="2.6" y1="7.0" x2="17.4" y2="7.0" stroke="#888" stroke-width="1.3"/><line x1="0.5" y1="9.200000000000001" x2="19.5" y2="9.200000000000001" stroke="#1c1c1c" stroke-width="1.4"/></g>
<rect x="416.40000000000003" y="322.65000000000003" width="68.1" height="16.4" fill="#c3c3c3" stroke="#2a2a2a" stroke-width="1.6" rx="0.4"/>
<line x1="417.80000000000007" y1="323.95000000000005" x2="417.80000000000007" y2="337.75" stroke="#dcdcdc" stroke-width="1"/>
<line x1="417.20000000000005" y1="337.45" x2="483.7" y2="337.45" stroke="#a8a8a8" stroke-width="1"/>
<g transform="translate(504.7,312.25)"><rect x="1.2" y="1.2" width="17.6" height="8.600000000000001" fill="#d6d6d6" stroke="#333" stroke-width="1.4" rx="2"/><path d="M0.2,0.3 L3.0,1.5 L2.3,9.8 L0.6,9.8 Z" fill="#1c1c1c"/><path d="M19.8,0.3 L17.0,1.5 L17.7,9.8 L19.4,9.8 Z" fill="#1c1c1c"/><line x1="2.6" y1="4.2" x2="17.4" y2="4.2" stroke="#666" stroke-width="1.3"/><line x1="2.6" y1="7.0" x2="17.4" y2="7.0" stroke="#888" stroke-width="1.3"/><line x1="0.5" y1="9.200000000000001" x2="19.5" y2="9.200000000000001" stroke="#1c1c1c" stroke-width="1.4"/></g>
<g transform="translate(527.1999999999999,312.25)"><rect x="1.2" y="1.2" width="17.6" height="8.600000000000001" fill="#d6d6d6" stroke="#333" stroke-width="1.4" rx="2"/><path d="M0.2,0.3 L3.0,1.5 L2.3,9.8 L0.6,9.8 Z" fill="#1c1c1c"/><path d="M19.8,0.3 L17.0,1.5 L17.7,9.8 L19.4,9.8 Z" fill="#1c1c1c"/><line x1="2.6" y1="4.2" x2="17.4" y2="4.2" stroke="#666" stroke-width="1.3"/><line x1="2.6" y1="7.0" x2="17.4" y2="7.0" stroke="#888" stroke-width="1.3"/><line x1="0.5" y1="9.200000000000001" x2="19.5" y2="9.200000000000001" stroke="#1c1c1c" stroke-width="1.4"/></g>
<g transform="translate(549.6999999999999,312.25)"><rect x="1.2" y="1.2" width="17.6" height="8.600000000000001" fill="#d6d6d6" stroke="#333" stroke-width="1.4" rx="2"/><path d="M0.2,0.3 L3.0,1.5 L2.3,9.8 L0.6,9.8 Z" fill="#1c1c1c"/><path d="M19.8,0.3 L17.0,1.5 L17.7,9.8 L19.4,9.8 Z" fill="#1c1c1c"/><line x1="2.6" y1="4.2" x2="17.4" y2="4.2" stroke="#666" stroke-width="1.3"/><line x1="2.6" y1="7.0" x2="17.4" y2="7.0" stroke="#888" stroke-width="1.3"/><line x1="0.5" y1="9.200000000000001" x2="19.5" y2="9.200000000000001" stroke="#1c1c1c" stroke-width="1.4"/></g>
<rect x="503.3" y="322.65000000000003" width="67.79999999999998" height="16.4" fill="#c3c3c3" stroke="#2a2a2a" stroke-width="1.6" rx="0.4"/>
<line x1="504.70000000000005" y1="323.95000000000005" x2="504.70000000000005" y2="337.75" stroke="#dcdcdc" stroke-width="1"/>
<line x1="504.1" y1="337.45" x2="570.3" y2="337.45" stroke="#a8a8a8" stroke-width="1"/>
<g transform="translate(245.7,356.09999999999997)"><rect x="1.2" y="1.2" width="17.6" height="8.600000000000001" fill="#d6d6d6" stroke="#333" stroke-width="1.4" rx="2"/><path d="M0.2,0.3 L3.0,1.5 L2.3,9.8 L0.6,9.8 Z" fill="#1c1c1c"/><path d="M19.8,0.3 L17.0,1.5 L17.7,9.8 L19.4,9.8 Z" fill="#1c1c1c"/><line x1="2.6" y1="4.2" x2="17.4" y2="4.2" stroke="#666" stroke-width="1.3"/><line x1="2.6" y1="7.0" x2="17.4" y2="7.0" stroke="#888" stroke-width="1.3"/><line x1="0.5" y1="9.200000000000001" x2="19.5" y2="9.200000000000001" stroke="#1c1c1c" stroke-width="1.4"/></g>
<g transform="translate(268.34999999999997,356.09999999999997)"><rect x="1.2" y="1.2" width="17.6" height="8.600000000000001" fill="#d6d6d6" stroke="#333" stroke-width="1.4" rx="2"/><path d="M0.2,0.3 L3.0,1.5 L2.3,9.8 L0.6,9.8 Z" fill="#1c1c1c"/><path d="M19.8,0.3 L17.0,1.5 L17.7,9.8 L19.4,9.8 Z" fill="#1c1c1c"/><line x1="2.6" y1="4.2" x2="17.4" y2="4.2" stroke="#666" stroke-width="1.3"/><line x1="2.6" y1="7.0" x2="17.4" y2="7.0" stroke="#888" stroke-width="1.3"/><line x1="0.5" y1="9.200000000000001" x2="19.5" y2="9.200000000000001" stroke="#1c1c1c" stroke-width="1.4"/></g>
<g transform="translate(291.0,356.09999999999997)"><rect x="1.2" y="1.2" width="17.6" height="8.600000000000001" fill="#d6d6d6" stroke="#333" stroke-width="1.4" rx="2"/><path d="M0.2,0.3 L3.0,1.5 L2.3,9.8 L0.6,9.8 Z" fill="#1c1c1c"/><path d="M19.8,0.3 L17.0,1.5 L17.7,9.8 L19.4,9.8 Z" fill="#1c1c1c"/><line x1="2.6" y1="4.2" x2="17.4" y2="4.2" stroke="#666" stroke-width="1.3"/><line x1="2.6" y1="7.0" x2="17.4" y2="7.0" stroke="#888" stroke-width="1.3"/><line x1="0.5" y1="9.200000000000001" x2="19.5" y2="9.200000000000001" stroke="#1c1c1c" stroke-width="1.4"/></g>
<rect x="244.3" y="366.5" width="68.1" height="16.4" fill="#c3c3c3" stroke="#2a2a2a" stroke-width="1.6" rx="0.4"/>
<line x1="245.7" y1="367.8" x2="245.7" y2="381.59999999999997" stroke="#dcdcdc" stroke-width="1"/>
<line x1="245.1" y1="381.29999999999995" x2="311.59999999999997" y2="381.29999999999995" stroke="#a8a8a8" stroke-width="1"/>
<g transform="translate(332.2,356.09999999999997)"><rect x="1.2" y="1.2" width="17.6" height="8.600000000000001" fill="#d6d6d6" stroke="#333" stroke-width="1.4" rx="2"/><path d="M0.2,0.3 L3.0,1.5 L2.3,9.8 L0.6,9.8 Z" fill="#1c1c1c"/><path d="M19.8,0.3 L17.0,1.5 L17.7,9.8 L19.4,9.8 Z" fill="#1c1c1c"/><line x1="2.6" y1="4.2" x2="17.4" y2="4.2" stroke="#666" stroke-width="1.3"/><line x1="2.6" y1="7.0" x2="17.4" y2="7.0" stroke="#888" stroke-width="1.3"/><line x1="0.5" y1="9.200000000000001" x2="19.5" y2="9.200000000000001" stroke="#1c1c1c" stroke-width="1.4"/></g>
<g transform="translate(354.09999999999997,356.09999999999997)"><rect x="1.2" y="1.2" width="17.6" height="8.600000000000001" fill="#d6d6d6" stroke="#333" stroke-width="1.4" rx="2"/><path d="M0.2,0.3 L3.0,1.5 L2.3,9.8 L0.6,9.8 Z" fill="#1c1c1c"/><path d="M19.8,0.3 L17.0,1.5 L17.7,9.8 L19.4,9.8 Z" fill="#1c1c1c"/><line x1="2.6" y1="4.2" x2="17.4" y2="4.2" stroke="#666" stroke-width="1.3"/><line x1="2.6" y1="7.0" x2="17.4" y2="7.0" stroke="#888" stroke-width="1.3"/><line x1="0.5" y1="9.200000000000001" x2="19.5" y2="9.200000000000001" stroke="#1c1c1c" stroke-width="1.4"/></g>
<g transform="translate(376.0,356.09999999999997)"><rect x="1.2" y="1.2" width="17.6" height="8.600000000000001" fill="#d6d6d6" stroke="#333" stroke-width="1.4" rx="2"/><path d="M0.2,0.3 L3.0,1.5 L2.3,9.8 L0.6,9.8 Z" fill="#1c1c1c"/><path d="M19.8,0.3 L17.0,1.5 L17.7,9.8 L19.4,9.8 Z" fill="#1c1c1c"/><line x1="2.6" y1="4.2" x2="17.4" y2="4.2" stroke="#666" stroke-width="1.3"/><line x1="2.6" y1="7.0" x2="17.4" y2="7.0" stroke="#888" stroke-width="1.3"/><line x1="0.5" y1="9.200000000000001" x2="19.5" y2="9.200000000000001" stroke="#1c1c1c" stroke-width="1.4"/></g>
<rect x="330.8" y="366.5" width="66.6" height="16.4" fill="#c3c3c3" stroke="#2a2a2a" stroke-width="1.6" rx="0.4"/>
<line x1="332.20000000000005" y1="367.8" x2="332.20000000000005" y2="381.59999999999997" stroke="#dcdcdc" stroke-width="1"/>
<line x1="331.6" y1="381.29999999999995" x2="396.59999999999997" y2="381.29999999999995" stroke="#a8a8a8" stroke-width="1"/>
<g transform="translate(417.8,356.09999999999997)"><rect x="1.2" y="1.2" width="17.6" height="8.600000000000001" fill="#d6d6d6" stroke="#333" stroke-width="1.4" rx="2"/><path d="M0.2,0.3 L3.0,1.5 L2.3,9.8 L0.6,9.8 Z" fill="#1c1c1c"/><path d="M19.8,0.3 L17.0,1.5 L17.7,9.8 L19.4,9.8 Z" fill="#1c1c1c"/><line x1="2.6" y1="4.2" x2="17.4" y2="4.2" stroke="#666" stroke-width="1.3"/><line x1="2.6" y1="7.0" x2="17.4" y2="7.0" stroke="#888" stroke-width="1.3"/><line x1="0.5" y1="9.200000000000001" x2="19.5" y2="9.200000000000001" stroke="#1c1c1c" stroke-width="1.4"/></g>
<g transform="translate(440.45,356.09999999999997)"><rect x="1.2" y="1.2" width="17.6" height="8.600000000000001" fill="#d6d6d6" stroke="#333" stroke-width="1.4" rx="2"/><path d="M0.2,0.3 L3.0,1.5 L2.3,9.8 L0.6,9.8 Z" fill="#1c1c1c"/><path d="M19.8,0.3 L17.0,1.5 L17.7,9.8 L19.4,9.8 Z" fill="#1c1c1c"/><line x1="2.6" y1="4.2" x2="17.4" y2="4.2" stroke="#666" stroke-width="1.3"/><line x1="2.6" y1="7.0" x2="17.4" y2="7.0" stroke="#888" stroke-width="1.3"/><line x1="0.5" y1="9.200000000000001" x2="19.5" y2="9.200000000000001" stroke="#1c1c1c" stroke-width="1.4"/></g>
<g transform="translate(463.1,356.09999999999997)"><rect x="1.2" y="1.2" width="17.6" height="8.600000000000001" fill="#d6d6d6" stroke="#333" stroke-width="1.4" rx="2"/><path d="M0.2,0.3 L3.0,1.5 L2.3,9.8 L0.6,9.8 Z" fill="#1c1c1c"/><path d="M19.8,0.3 L17.0,1.5 L17.7,9.8 L19.4,9.8 Z" fill="#1c1c1c"/><line x1="2.6" y1="4.2" x2="17.4" y2="4.2" stroke="#666" stroke-width="1.3"/><line x1="2.6" y1="7.0" x2="17.4" y2="7.0" stroke="#888" stroke-width="1.3"/><line x1="0.5" y1="9.200000000000001" x2="19.5" y2="9.200000000000001" stroke="#1c1c1c" stroke-width="1.4"/></g>
<rect x="416.40000000000003" y="366.5" width="68.1" height="16.4" fill="#c3c3c3" stroke="#2a2a2a" stroke-width="1.6" rx="0.4"/>
<line x1="417.80000000000007" y1="367.8" x2="417.80000000000007" y2="381.59999999999997" stroke="#dcdcdc" stroke-width="1"/>
<line x1="417.20000000000005" y1="381.29999999999995" x2="483.7" y2="381.29999999999995" stroke="#a8a8a8" stroke-width="1"/>
<g transform="translate(504.7,356.09999999999997)"><rect x="1.2" y="1.2" width="17.6" height="8.600000000000001" fill="#d6d6d6" stroke="#333" stroke-width="1.4" rx="2"/><path d="M0.2,0.3 L3.0,1.5 L2.3,9.8 L0.6,9.8 Z" fill="#1c1c1c"/><path d="M19.8,0.3 L17.0,1.5 L17.7,9.8 L19.4,9.8 Z" fill="#1c1c1c"/><line x1="2.6" y1="4.2" x2="17.4" y2="4.2" stroke="#666" stroke-width="1.3"/><line x1="2.6" y1="7.0" x2="17.4" y2="7.0" stroke="#888" stroke-width="1.3"/><line x1="0.5" y1="9.200000000000001" x2="19.5" y2="9.200000000000001" stroke="#1c1c1c" stroke-width="1.4"/></g>
<g transform="translate(527.1999999999999,356.09999999999997)"><rect x="1.2" y="1.2" width="17.6" height="8.600000000000001" fill="#d6d6d6" stroke="#333" stroke-width="1.4" rx="2"/><path d="M0.2,0.3 L3.0,1.5 L2.3,9.8 L0.6,9.8 Z" fill="#1c1c1c"/><path d="M19.8,0.3 L17.0,1.5 L17.7,9.8 L19.4,9.8 Z" fill="#1c1c1c"/><line x1="2.6" y1="4.2" x2="17.4" y2="4.2" stroke="#666" stroke-width="1.3"/><line x1="2.6" y1="7.0" x2="17.4" y2="7.0" stroke="#888" stroke-width="1.3"/><line x1="0.5" y1="9.200000000000001" x2="19.5" y2="9.200000000000001" stroke="#1c1c1c" stroke-width="1.4"/></g>
<g transform="translate(549.6999999999999,356.09999999999997)"><rect x="1.2" y="1.2" width="17.6" height="8.600000000000001" fill="#d6d6d6" stroke="#333" stroke-width="1.4" rx="2"/><path d="M0.2,0.3 L3.0,1.5 L2.3,9.8 L0.6,9.8 Z" fill="#1c1c1c"/><path d="M19.8,0.3 L17.0,1.5 L17.7,9.8 L19.4,9.8 Z" fill="#1c1c1c"/><line x1="2.6" y1="4.2" x2="17.4" y2="4.2" stroke="#666" stroke-width="1.3"/><line x1="2.6" y1="7.0" x2="17.4" y2="7.0" stroke="#888" stroke-width="1.3"/><line x1="0.5" y1="9.200000000000001" x2="19.5" y2="9.200000000000001" stroke="#1c1c1c" stroke-width="1.4"/></g>
<rect x="503.3" y="366.5" width="67.79999999999998" height="16.4" fill="#c3c3c3" stroke="#2a2a2a" stroke-width="1.6" rx="0.4"/>
<line x1="504.70000000000005" y1="367.8" x2="504.70000000000005" y2="381.59999999999997" stroke="#dcdcdc" stroke-width="1"/>
<line x1="504.1" y1="381.29999999999995" x2="570.3" y2="381.29999999999995" stroke="#a8a8a8" stroke-width="1"/>
<g transform="translate(245.7,399.2)"><rect x="1.2" y="1.2" width="17.6" height="8.600000000000001" fill="#d6d6d6" stroke="#333" stroke-width="1.4" rx="2"/><path d="M0.2,0.3 L3.0,1.5 L2.3,9.8 L0.6,9.8 Z" fill="#1c1c1c"/><path d="M19.8,0.3 L17.0,1.5 L17.7,9.8 L19.4,9.8 Z" fill="#1c1c1c"/><line x1="2.6" y1="4.2" x2="17.4" y2="4.2" stroke="#666" stroke-width="1.3"/><line x1="2.6" y1="7.0" x2="17.4" y2="7.0" stroke="#888" stroke-width="1.3"/><line x1="0.5" y1="9.200000000000001" x2="19.5" y2="9.200000000000001" stroke="#1c1c1c" stroke-width="1.4"/></g>
<g transform="translate(268.34999999999997,399.2)"><rect x="1.2" y="1.2" width="17.6" height="8.600000000000001" fill="#d6d6d6" stroke="#333" stroke-width="1.4" rx="2"/><path d="M0.2,0.3 L3.0,1.5 L2.3,9.8 L0.6,9.8 Z" fill="#1c1c1c"/><path d="M19.8,0.3 L17.0,1.5 L17.7,9.8 L19.4,9.8 Z" fill="#1c1c1c"/><line x1="2.6" y1="4.2" x2="17.4" y2="4.2" stroke="#666" stroke-width="1.3"/><line x1="2.6" y1="7.0" x2="17.4" y2="7.0" stroke="#888" stroke-width="1.3"/><line x1="0.5" y1="9.200000000000001" x2="19.5" y2="9.200000000000001" stroke="#1c1c1c" stroke-width="1.4"/></g>
<g transform="translate(291.0,399.2)"><rect x="1.2" y="1.2" width="17.6" height="8.600000000000001" fill="#d6d6d6" stroke="#333" stroke-width="1.4" rx="2"/><path d="M0.2,0.3 L3.0,1.5 L2.3,9.8 L0.6,9.8 Z" fill="#1c1c1c"/><path d="M19.8,0.3 L17.0,1.5 L17.7,9.8 L19.4,9.8 Z" fill="#1c1c1c"/><line x1="2.6" y1="4.2" x2="17.4" y2="4.2" stroke="#666" stroke-width="1.3"/><line x1="2.6" y1="7.0" x2="17.4" y2="7.0" stroke="#888" stroke-width="1.3"/><line x1="0.5" y1="9.200000000000001" x2="19.5" y2="9.200000000000001" stroke="#1c1c1c" stroke-width="1.4"/></g>
<rect x="244.3" y="409.6" width="68.1" height="16.4" fill="#c3c3c3" stroke="#2a2a2a" stroke-width="1.6" rx="0.4"/>
<line x1="245.7" y1="410.90000000000003" x2="245.7" y2="424.7" stroke="#dcdcdc" stroke-width="1"/>
<line x1="245.1" y1="424.4" x2="311.59999999999997" y2="424.4" stroke="#a8a8a8" stroke-width="1"/>
<g transform="translate(332.2,399.2)"><rect x="1.2" y="1.2" width="17.6" height="8.600000000000001" fill="#d6d6d6" stroke="#333" stroke-width="1.4" rx="2"/><path d="M0.2,0.3 L3.0,1.5 L2.3,9.8 L0.6,9.8 Z" fill="#1c1c1c"/><path d="M19.8,0.3 L17.0,1.5 L17.7,9.8 L19.4,9.8 Z" fill="#1c1c1c"/><line x1="2.6" y1="4.2" x2="17.4" y2="4.2" stroke="#666" stroke-width="1.3"/><line x1="2.6" y1="7.0" x2="17.4" y2="7.0" stroke="#888" stroke-width="1.3"/><line x1="0.5" y1="9.200000000000001" x2="19.5" y2="9.200000000000001" stroke="#1c1c1c" stroke-width="1.4"/></g>
<g transform="translate(354.09999999999997,399.2)"><rect x="1.2" y="1.2" width="17.6" height="8.600000000000001" fill="#d6d6d6" stroke="#333" stroke-width="1.4" rx="2"/><path d="M0.2,0.3 L3.0,1.5 L2.3,9.8 L0.6,9.8 Z" fill="#1c1c1c"/><path d="M19.8,0.3 L17.0,1.5 L17.7,9.8 L19.4,9.8 Z" fill="#1c1c1c"/><line x1="2.6" y1="4.2" x2="17.4" y2="4.2" stroke="#666" stroke-width="1.3"/><line x1="2.6" y1="7.0" x2="17.4" y2="7.0" stroke="#888" stroke-width="1.3"/><line x1="0.5" y1="9.200000000000001" x2="19.5" y2="9.200000000000001" stroke="#1c1c1c" stroke-width="1.4"/></g>
<g transform="translate(376.0,399.2)"><rect x="1.2" y="1.2" width="17.6" height="8.600000000000001" fill="#d6d6d6" stroke="#333" stroke-width="1.4" rx="2"/><path d="M0.2,0.3 L3.0,1.5 L2.3,9.8 L0.6,9.8 Z" fill="#1c1c1c"/><path d="M19.8,0.3 L17.0,1.5 L17.7,9.8 L19.4,9.8 Z" fill="#1c1c1c"/><line x1="2.6" y1="4.2" x2="17.4" y2="4.2" stroke="#666" stroke-width="1.3"/><line x1="2.6" y1="7.0" x2="17.4" y2="7.0" stroke="#888" stroke-width="1.3"/><line x1="0.5" y1="9.200000000000001" x2="19.5" y2="9.200000000000001" stroke="#1c1c1c" stroke-width="1.4"/></g>
<rect x="330.8" y="409.6" width="66.6" height="16.4" fill="#c3c3c3" stroke="#2a2a2a" stroke-width="1.6" rx="0.4"/>
<line x1="332.20000000000005" y1="410.90000000000003" x2="332.20000000000005" y2="424.7" stroke="#dcdcdc" stroke-width="1"/>
<line x1="331.6" y1="424.4" x2="396.59999999999997" y2="424.4" stroke="#a8a8a8" stroke-width="1"/>
<g transform="translate(417.8,399.2)"><rect x="1.2" y="1.2" width="17.6" height="8.600000000000001" fill="#d6d6d6" stroke="#333" stroke-width="1.4" rx="2"/><path d="M0.2,0.3 L3.0,1.5 L2.3,9.8 L0.6,9.8 Z" fill="#1c1c1c"/><path d="M19.8,0.3 L17.0,1.5 L17.7,9.8 L19.4,9.8 Z" fill="#1c1c1c"/><line x1="2.6" y1="4.2" x2="17.4" y2="4.2" stroke="#666" stroke-width="1.3"/><line x1="2.6" y1="7.0" x2="17.4" y2="7.0" stroke="#888" stroke-width="1.3"/><line x1="0.5" y1="9.200000000000001" x2="19.5" y2="9.200000000000001" stroke="#1c1c1c" stroke-width="1.4"/></g>
<g transform="translate(440.45,399.2)"><rect x="1.2" y="1.2" width="17.6" height="8.600000000000001" fill="#d6d6d6" stroke="#333" stroke-width="1.4" rx="2"/><path d="M0.2,0.3 L3.0,1.5 L2.3,9.8 L0.6,9.8 Z" fill="#1c1c1c"/><path d="M19.8,0.3 L17.0,1.5 L17.7,9.8 L19.4,9.8 Z" fill="#1c1c1c"/><line x1="2.6" y1="4.2" x2="17.4" y2="4.2" stroke="#666" stroke-width="1.3"/><line x1="2.6" y1="7.0" x2="17.4" y2="7.0" stroke="#888" stroke-width="1.3"/><line x1="0.5" y1="9.200000000000001" x2="19.5" y2="9.200000000000001" stroke="#1c1c1c" stroke-width="1.4"/></g>
<g transform="translate(463.1,399.2)"><rect x="1.2" y="1.2" width="17.6" height="8.600000000000001" fill="#d6d6d6" stroke="#333" stroke-width="1.4" rx="2"/><path d="M0.2,0.3 L3.0,1.5 L2.3,9.8 L0.6,9.8 Z" fill="#1c1c1c"/><path d="M19.8,0.3 L17.0,1.5 L17.7,9.8 L19.4,9.8 Z" fill="#1c1c1c"/><line x1="2.6" y1="4.2" x2="17.4" y2="4.2" stroke="#666" stroke-width="1.3"/><line x1="2.6" y1="7.0" x2="17.4" y2="7.0" stroke="#888" stroke-width="1.3"/><line x1="0.5" y1="9.200000000000001" x2="19.5" y2="9.200000000000001" stroke="#1c1c1c" stroke-width="1.4"/></g>
<rect x="416.40000000000003" y="409.6" width="68.1" height="16.4" fill="#c3c3c3" stroke="#2a2a2a" stroke-width="1.6" rx="0.4"/>
<line x1="417.80000000000007" y1="410.90000000000003" x2="417.80000000000007" y2="424.7" stroke="#dcdcdc" stroke-width="1"/>
<line x1="417.20000000000005" y1="424.4" x2="483.7" y2="424.4" stroke="#a8a8a8" stroke-width="1"/>
<g transform="translate(504.7,399.2)"><rect x="1.2" y="1.2" width="17.6" height="8.600000000000001" fill="#d6d6d6" stroke="#333" stroke-width="1.4" rx="2"/><path d="M0.2,0.3 L3.0,1.5 L2.3,9.8 L0.6,9.8 Z" fill="#1c1c1c"/><path d="M19.8,0.3 L17.0,1.5 L17.7,9.8 L19.4,9.8 Z" fill="#1c1c1c"/><line x1="2.6" y1="4.2" x2="17.4" y2="4.2" stroke="#666" stroke-width="1.3"/><line x1="2.6" y1="7.0" x2="17.4" y2="7.0" stroke="#888" stroke-width="1.3"/><line x1="0.5" y1="9.200000000000001" x2="19.5" y2="9.200000000000001" stroke="#1c1c1c" stroke-width="1.4"/></g>
<g transform="translate(527.1999999999999,399.2)"><rect x="1.2" y="1.2" width="17.6" height="8.600000000000001" fill="#d6d6d6" stroke="#333" stroke-width="1.4" rx="2"/><path d="M0.2,0.3 L3.0,1.5 L2.3,9.8 L0.6,9.8 Z" fill="#1c1c1c"/><path d="M19.8,0.3 L17.0,1.5 L17.7,9.8 L19.4,9.8 Z" fill="#1c1c1c"/><line x1="2.6" y1="4.2" x2="17.4" y2="4.2" stroke="#666" stroke-width="1.3"/><line x1="2.6" y1="7.0" x2="17.4" y2="7.0" stroke="#888" stroke-width="1.3"/><line x1="0.5" y1="9.200000000000001" x2="19.5" y2="9.200000000000001" stroke="#1c1c1c" stroke-width="1.4"/></g>
<g transform="translate(549.6999999999999,399.2)"><rect x="1.2" y="1.2" width="17.6" height="8.600000000000001" fill="#d6d6d6" stroke="#333" stroke-width="1.4" rx="2"/><path d="M0.2,0.3 L3.0,1.5 L2.3,9.8 L0.6,9.8 Z" fill="#1c1c1c"/><path d="M19.8,0.3 L17.0,1.5 L17.7,9.8 L19.4,9.8 Z" fill="#1c1c1c"/><line x1="2.6" y1="4.2" x2="17.4" y2="4.2" stroke="#666" stroke-width="1.3"/><line x1="2.6" y1="7.0" x2="17.4" y2="7.0" stroke="#888" stroke-width="1.3"/><line x1="0.5" y1="9.200000000000001" x2="19.5" y2="9.200000000000001" stroke="#1c1c1c" stroke-width="1.4"/></g>
<rect x="503.3" y="409.6" width="67.79999999999998" height="16.4" fill="#c3c3c3" stroke="#2a2a2a" stroke-width="1.6" rx="0.4"/>
<line x1="504.70000000000005" y1="410.90000000000003" x2="504.70000000000005" y2="424.7" stroke="#dcdcdc" stroke-width="1"/>
<line x1="504.1" y1="424.4" x2="570.3" y2="424.4" stroke="#a8a8a8" stroke-width="1"/>
<g transform="translate(245.7,444.09999999999997)"><rect x="1.2" y="1.2" width="17.6" height="8.600000000000001" fill="#d6d6d6" stroke="#333" stroke-width="1.4" rx="2"/><path d="M0.2,0.3 L3.0,1.5 L2.3,9.8 L0.6,9.8 Z" fill="#1c1c1c"/><path d="M19.8,0.3 L17.0,1.5 L17.7,9.8 L19.4,9.8 Z" fill="#1c1c1c"/><line x1="2.6" y1="4.2" x2="17.4" y2="4.2" stroke="#666" stroke-width="1.3"/><line x1="2.6" y1="7.0" x2="17.4" y2="7.0" stroke="#888" stroke-width="1.3"/><line x1="0.5" y1="9.200000000000001" x2="19.5" y2="9.200000000000001" stroke="#1c1c1c" stroke-width="1.4"/></g>
<g transform="translate(268.34999999999997,444.09999999999997)"><rect x="1.2" y="1.2" width="17.6" height="8.600000000000001" fill="#d6d6d6" stroke="#333" stroke-width="1.4" rx="2"/><path d="M0.2,0.3 L3.0,1.5 L2.3,9.8 L0.6,9.8 Z" fill="#1c1c1c"/><path d="M19.8,0.3 L17.0,1.5 L17.7,9.8 L19.4,9.8 Z" fill="#1c1c1c"/><line x1="2.6" y1="4.2" x2="17.4" y2="4.2" stroke="#666" stroke-width="1.3"/><line x1="2.6" y1="7.0" x2="17.4" y2="7.0" stroke="#888" stroke-width="1.3"/><line x1="0.5" y1="9.200000000000001" x2="19.5" y2="9.200000000000001" stroke="#1c1c1c" stroke-width="1.4"/></g>
<g transform="translate(291.0,444.09999999999997)"><rect x="1.2" y="1.2" width="17.6" height="8.600000000000001" fill="#d6d6d6" stroke="#333" stroke-width="1.4" rx="2"/><path d="M0.2,0.3 L3.0,1.5 L2.3,9.8 L0.6,9.8 Z" fill="#1c1c1c"/><path d="M19.8,0.3 L17.0,1.5 L17.7,9.8 L19.4,9.8 Z" fill="#1c1c1c"/><line x1="2.6" y1="4.2" x2="17.4" y2="4.2" stroke="#666" stroke-width="1.3"/><line x1="2.6" y1="7.0" x2="17.4" y2="7.0" stroke="#888" stroke-width="1.3"/><line x1="0.5" y1="9.200000000000001" x2="19.5" y2="9.200000000000001" stroke="#1c1c1c" stroke-width="1.4"/></g>
<rect x="244.3" y="454.5" width="68.1" height="16.4" fill="#c3c3c3" stroke="#2a2a2a" stroke-width="1.6" rx="0.4"/>
<line x1="245.7" y1="455.8" x2="245.7" y2="469.59999999999997" stroke="#dcdcdc" stroke-width="1"/>
<line x1="245.1" y1="469.29999999999995" x2="311.59999999999997" y2="469.29999999999995" stroke="#a8a8a8" stroke-width="1"/>
<g transform="translate(332.2,444.09999999999997)"><rect x="1.2" y="1.2" width="17.6" height="8.600000000000001" fill="#d6d6d6" stroke="#333" stroke-width="1.4" rx="2"/><path d="M0.2,0.3 L3.0,1.5 L2.3,9.8 L0.6,9.8 Z" fill="#1c1c1c"/><path d="M19.8,0.3 L17.0,1.5 L17.7,9.8 L19.4,9.8 Z" fill="#1c1c1c"/><line x1="2.6" y1="4.2" x2="17.4" y2="4.2" stroke="#666" stroke-width="1.3"/><line x1="2.6" y1="7.0" x2="17.4" y2="7.0" stroke="#888" stroke-width="1.3"/><line x1="0.5" y1="9.200000000000001" x2="19.5" y2="9.200000000000001" stroke="#1c1c1c" stroke-width="1.4"/></g>
<g transform="translate(354.09999999999997,444.09999999999997)"><rect x="1.2" y="1.2" width="17.6" height="8.600000000000001" fill="#d6d6d6" stroke="#333" stroke-width="1.4" rx="2"/><path d="M0.2,0.3 L3.0,1.5 L2.3,9.8 L0.6,9.8 Z" fill="#1c1c1c"/><path d="M19.8,0.3 L17.0,1.5 L17.7,9.8 L19.4,9.8 Z" fill="#1c1c1c"/><line x1="2.6" y1="4.2" x2="17.4" y2="4.2" stroke="#666" stroke-width="1.3"/><line x1="2.6" y1="7.0" x2="17.4" y2="7.0" stroke="#888" stroke-width="1.3"/><line x1="0.5" y1="9.200000000000001" x2="19.5" y2="9.200000000000001" stroke="#1c1c1c" stroke-width="1.4"/></g>
<g transform="translate(376.0,444.09999999999997)"><rect x="1.2" y="1.2" width="17.6" height="8.600000000000001" fill="#d6d6d6" stroke="#333" stroke-width="1.4" rx="2"/><path d="M0.2,0.3 L3.0,1.5 L2.3,9.8 L0.6,9.8 Z" fill="#1c1c1c"/><path d="M19.8,0.3 L17.0,1.5 L17.7,9.8 L19.4,9.8 Z" fill="#1c1c1c"/><line x1="2.6" y1="4.2" x2="17.4" y2="4.2" stroke="#666" stroke-width="1.3"/><line x1="2.6" y1="7.0" x2="17.4" y2="7.0" stroke="#888" stroke-width="1.3"/><line x1="0.5" y1="9.200000000000001" x2="19.5" y2="9.200000000000001" stroke="#1c1c1c" stroke-width="1.4"/></g>
<rect x="330.8" y="454.5" width="66.6" height="16.4" fill="#c3c3c3" stroke="#2a2a2a" stroke-width="1.6" rx="0.4"/>
<line x1="332.20000000000005" y1="455.8" x2="332.20000000000005" y2="469.59999999999997" stroke="#dcdcdc" stroke-width="1"/>
<line x1="331.6" y1="469.29999999999995" x2="396.59999999999997" y2="469.29999999999995" stroke="#a8a8a8" stroke-width="1"/>
<g transform="translate(417.8,444.09999999999997)"><rect x="1.2" y="1.2" width="17.6" height="8.600000000000001" fill="#d6d6d6" stroke="#333" stroke-width="1.4" rx="2"/><path d="M0.2,0.3 L3.0,1.5 L2.3,9.8 L0.6,9.8 Z" fill="#1c1c1c"/><path d="M19.8,0.3 L17.0,1.5 L17.7,9.8 L19.4,9.8 Z" fill="#1c1c1c"/><line x1="2.6" y1="4.2" x2="17.4" y2="4.2" stroke="#666" stroke-width="1.3"/><line x1="2.6" y1="7.0" x2="17.4" y2="7.0" stroke="#888" stroke-width="1.3"/><line x1="0.5" y1="9.200000000000001" x2="19.5" y2="9.200000000000001" stroke="#1c1c1c" stroke-width="1.4"/></g>
<g transform="translate(440.45,444.09999999999997)"><rect x="1.2" y="1.2" width="17.6" height="8.600000000000001" fill="#d6d6d6" stroke="#333" stroke-width="1.4" rx="2"/><path d="M0.2,0.3 L3.0,1.5 L2.3,9.8 L0.6,9.8 Z" fill="#1c1c1c"/><path d="M19.8,0.3 L17.0,1.5 L17.7,9.8 L19.4,9.8 Z" fill="#1c1c1c"/><line x1="2.6" y1="4.2" x2="17.4" y2="4.2" stroke="#666" stroke-width="1.3"/><line x1="2.6" y1="7.0" x2="17.4" y2="7.0" stroke="#888" stroke-width="1.3"/><line x1="0.5" y1="9.200000000000001" x2="19.5" y2="9.200000000000001" stroke="#1c1c1c" stroke-width="1.4"/></g>
<g transform="translate(463.1,444.09999999999997)"><rect x="1.2" y="1.2" width="17.6" height="8.600000000000001" fill="#d6d6d6" stroke="#333" stroke-width="1.4" rx="2"/><path d="M0.2,0.3 L3.0,1.5 L2.3,9.8 L0.6,9.8 Z" fill="#1c1c1c"/><path d="M19.8,0.3 L17.0,1.5 L17.7,9.8 L19.4,9.8 Z" fill="#1c1c1c"/><line x1="2.6" y1="4.2" x2="17.4" y2="4.2" stroke="#666" stroke-width="1.3"/><line x1="2.6" y1="7.0" x2="17.4" y2="7.0" stroke="#888" stroke-width="1.3"/><line x1="0.5" y1="9.200000000000001" x2="19.5" y2="9.200000000000001" stroke="#1c1c1c" stroke-width="1.4"/></g>
<rect x="416.40000000000003" y="454.5" width="68.1" height="16.4" fill="#c3c3c3" stroke="#2a2a2a" stroke-width="1.6" rx="0.4"/>
<line x1="417.80000000000007" y1="455.8" x2="417.80000000000007" y2="469.59999999999997" stroke="#dcdcdc" stroke-width="1"/>
<line x1="417.20000000000005" y1="469.29999999999995" x2="483.7" y2="469.29999999999995" stroke="#a8a8a8" stroke-width="1"/>
<g transform="translate(504.7,444.09999999999997)"><rect x="1.2" y="1.2" width="17.6" height="8.600000000000001" fill="#d6d6d6" stroke="#333" stroke-width="1.4" rx="2"/><path d="M0.2,0.3 L3.0,1.5 L2.3,9.8 L0.6,9.8 Z" fill="#1c1c1c"/><path d="M19.8,0.3 L17.0,1.5 L17.7,9.8 L19.4,9.8 Z" fill="#1c1c1c"/><line x1="2.6" y1="4.2" x2="17.4" y2="4.2" stroke="#666" stroke-width="1.3"/><line x1="2.6" y1="7.0" x2="17.4" y2="7.0" stroke="#888" stroke-width="1.3"/><line x1="0.5" y1="9.200000000000001" x2="19.5" y2="9.200000000000001" stroke="#1c1c1c" stroke-width="1.4"/></g>
<g transform="translate(527.1999999999999,444.09999999999997)"><rect x="1.2" y="1.2" width="17.6" height="8.600000000000001" fill="#d6d6d6" stroke="#333" stroke-width="1.4" rx="2"/><path d="M0.2,0.3 L3.0,1.5 L2.3,9.8 L0.6,9.8 Z" fill="#1c1c1c"/><path d="M19.8,0.3 L17.0,1.5 L17.7,9.8 L19.4,9.8 Z" fill="#1c1c1c"/><line x1="2.6" y1="4.2" x2="17.4" y2="4.2" stroke="#666" stroke-width="1.3"/><line x1="2.6" y1="7.0" x2="17.4" y2="7.0" stroke="#888" stroke-width="1.3"/><line x1="0.5" y1="9.200000000000001" x2="19.5" y2="9.200000000000001" stroke="#1c1c1c" stroke-width="1.4"/></g>
<g transform="translate(549.6999999999999,444.09999999999997)"><rect x="1.2" y="1.2" width="17.6" height="8.600000000000001" fill="#d6d6d6" stroke="#333" stroke-width="1.4" rx="2"/><path d="M0.2,0.3 L3.0,1.5 L2.3,9.8 L0.6,9.8 Z" fill="#1c1c1c"/><path d="M19.8,0.3 L17.0,1.5 L17.7,9.8 L19.4,9.8 Z" fill="#1c1c1c"/><line x1="2.6" y1="4.2" x2="17.4" y2="4.2" stroke="#666" stroke-width="1.3"/><line x1="2.6" y1="7.0" x2="17.4" y2="7.0" stroke="#888" stroke-width="1.3"/><line x1="0.5" y1="9.200000000000001" x2="19.5" y2="9.200000000000001" stroke="#1c1c1c" stroke-width="1.4"/></g>
<rect x="503.3" y="454.5" width="67.79999999999998" height="16.4" fill="#c3c3c3" stroke="#2a2a2a" stroke-width="1.6" rx="0.4"/>
<line x1="504.70000000000005" y1="455.8" x2="504.70000000000005" y2="469.59999999999997" stroke="#dcdcdc" stroke-width="1"/>
<line x1="504.1" y1="469.29999999999995" x2="570.3" y2="469.29999999999995" stroke="#a8a8a8" stroke-width="1"/>
<g transform="translate(245.7,487.59999999999997)"><rect x="1.2" y="1.2" width="17.6" height="8.600000000000001" fill="#d6d6d6" stroke="#333" stroke-width="1.4" rx="2"/><path d="M0.2,0.3 L3.0,1.5 L2.3,9.8 L0.6,9.8 Z" fill="#1c1c1c"/><path d="M19.8,0.3 L17.0,1.5 L17.7,9.8 L19.4,9.8 Z" fill="#1c1c1c"/><line x1="2.6" y1="4.2" x2="17.4" y2="4.2" stroke="#666" stroke-width="1.3"/><line x1="2.6" y1="7.0" x2="17.4" y2="7.0" stroke="#888" stroke-width="1.3"/><line x1="0.5" y1="9.200000000000001" x2="19.5" y2="9.200000000000001" stroke="#1c1c1c" stroke-width="1.4"/></g>
<g transform="translate(268.34999999999997,487.59999999999997)"><rect x="1.2" y="1.2" width="17.6" height="8.600000000000001" fill="#d6d6d6" stroke="#333" stroke-width="1.4" rx="2"/><path d="M0.2,0.3 L3.0,1.5 L2.3,9.8 L0.6,9.8 Z" fill="#1c1c1c"/><path d="M19.8,0.3 L17.0,1.5 L17.7,9.8 L19.4,9.8 Z" fill="#1c1c1c"/><line x1="2.6" y1="4.2" x2="17.4" y2="4.2" stroke="#666" stroke-width="1.3"/><line x1="2.6" y1="7.0" x2="17.4" y2="7.0" stroke="#888" stroke-width="1.3"/><line x1="0.5" y1="9.200000000000001" x2="19.5" y2="9.200000000000001" stroke="#1c1c1c" stroke-width="1.4"/></g>
<g transform="translate(291.0,487.59999999999997)"><rect x="1.2" y="1.2" width="17.6" height="8.600000000000001" fill="#d6d6d6" stroke="#333" stroke-width="1.4" rx="2"/><path d="M0.2,0.3 L3.0,1.5 L2.3,9.8 L0.6,9.8 Z" fill="#1c1c1c"/><path d="M19.8,0.3 L17.0,1.5 L17.7,9.8 L19.4,9.8 Z" fill="#1c1c1c"/><line x1="2.6" y1="4.2" x2="17.4" y2="4.2" stroke="#666" stroke-width="1.3"/><line x1="2.6" y1="7.0" x2="17.4" y2="7.0" stroke="#888" stroke-width="1.3"/><line x1="0.5" y1="9.200000000000001" x2="19.5" y2="9.200000000000001" stroke="#1c1c1c" stroke-width="1.4"/></g>
<rect x="244.3" y="498.0" width="68.1" height="16.4" fill="#c3c3c3" stroke="#2a2a2a" stroke-width="1.6" rx="0.4"/>
<line x1="245.7" y1="499.3" x2="245.7" y2="513.1" stroke="#dcdcdc" stroke-width="1"/>
<line x1="245.1" y1="512.8000000000001" x2="311.59999999999997" y2="512.8000000000001" stroke="#a8a8a8" stroke-width="1"/>
<g transform="translate(332.2,487.59999999999997)"><rect x="1.2" y="1.2" width="17.6" height="8.600000000000001" fill="#d6d6d6" stroke="#333" stroke-width="1.4" rx="2"/><path d="M0.2,0.3 L3.0,1.5 L2.3,9.8 L0.6,9.8 Z" fill="#1c1c1c"/><path d="M19.8,0.3 L17.0,1.5 L17.7,9.8 L19.4,9.8 Z" fill="#1c1c1c"/><line x1="2.6" y1="4.2" x2="17.4" y2="4.2" stroke="#666" stroke-width="1.3"/><line x1="2.6" y1="7.0" x2="17.4" y2="7.0" stroke="#888" stroke-width="1.3"/><line x1="0.5" y1="9.200000000000001" x2="19.5" y2="9.200000000000001" stroke="#1c1c1c" stroke-width="1.4"/></g>
<g transform="translate(354.09999999999997,487.59999999999997)"><rect x="1.2" y="1.2" width="17.6" height="8.600000000000001" fill="#d6d6d6" stroke="#333" stroke-width="1.4" rx="2"/><path d="M0.2,0.3 L3.0,1.5 L2.3,9.8 L0.6,9.8 Z" fill="#1c1c1c"/><path d="M19.8,0.3 L17.0,1.5 L17.7,9.8 L19.4,9.8 Z" fill="#1c1c1c"/><line x1="2.6" y1="4.2" x2="17.4" y2="4.2" stroke="#666" stroke-width="1.3"/><line x1="2.6" y1="7.0" x2="17.4" y2="7.0" stroke="#888" stroke-width="1.3"/><line x1="0.5" y1="9.200000000000001" x2="19.5" y2="9.200000000000001" stroke="#1c1c1c" stroke-width="1.4"/></g>
<g transform="translate(376.0,487.59999999999997)"><rect x="1.2" y="1.2" width="17.6" height="8.600000000000001" fill="#d6d6d6" stroke="#333" stroke-width="1.4" rx="2"/><path d="M0.2,0.3 L3.0,1.5 L2.3,9.8 L0.6,9.8 Z" fill="#1c1c1c"/><path d="M19.8,0.3 L17.0,1.5 L17.7,9.8 L19.4,9.8 Z" fill="#1c1c1c"/><line x1="2.6" y1="4.2" x2="17.4" y2="4.2" stroke="#666" stroke-width="1.3"/><line x1="2.6" y1="7.0" x2="17.4" y2="7.0" stroke="#888" stroke-width="1.3"/><line x1="0.5" y1="9.200000000000001" x2="19.5" y2="9.200000000000001" stroke="#1c1c1c" stroke-width="1.4"/></g>
<rect x="330.8" y="498.0" width="66.6" height="16.4" fill="#c3c3c3" stroke="#2a2a2a" stroke-width="1.6" rx="0.4"/>
<line x1="332.20000000000005" y1="499.3" x2="332.20000000000005" y2="513.1" stroke="#dcdcdc" stroke-width="1"/>
<line x1="331.6" y1="512.8000000000001" x2="396.59999999999997" y2="512.8000000000001" stroke="#a8a8a8" stroke-width="1"/>
<g transform="translate(417.8,487.59999999999997)"><rect x="1.2" y="1.2" width="17.6" height="8.600000000000001" fill="#d6d6d6" stroke="#333" stroke-width="1.4" rx="2"/><path d="M0.2,0.3 L3.0,1.5 L2.3,9.8 L0.6,9.8 Z" fill="#1c1c1c"/><path d="M19.8,0.3 L17.0,1.5 L17.7,9.8 L19.4,9.8 Z" fill="#1c1c1c"/><line x1="2.6" y1="4.2" x2="17.4" y2="4.2" stroke="#666" stroke-width="1.3"/><line x1="2.6" y1="7.0" x2="17.4" y2="7.0" stroke="#888" stroke-width="1.3"/><line x1="0.5" y1="9.200000000000001" x2="19.5" y2="9.200000000000001" stroke="#1c1c1c" stroke-width="1.4"/></g>
<g transform="translate(440.45,487.59999999999997)"><rect x="1.2" y="1.2" width="17.6" height="8.600000000000001" fill="#d6d6d6" stroke="#333" stroke-width="1.4" rx="2"/><path d="M0.2,0.3 L3.0,1.5 L2.3,9.8 L0.6,9.8 Z" fill="#1c1c1c"/><path d="M19.8,0.3 L17.0,1.5 L17.7,9.8 L19.4,9.8 Z" fill="#1c1c1c"/><line x1="2.6" y1="4.2" x2="17.4" y2="4.2" stroke="#666" stroke-width="1.3"/><line x1="2.6" y1="7.0" x2="17.4" y2="7.0" stroke="#888" stroke-width="1.3"/><line x1="0.5" y1="9.200000000000001" x2="19.5" y2="9.200000000000001" stroke="#1c1c1c" stroke-width="1.4"/></g>
<g transform="translate(463.1,487.59999999999997)"><rect x="1.2" y="1.2" width="17.6" height="8.600000000000001" fill="#d6d6d6" stroke="#333" stroke-width="1.4" rx="2"/><path d="M0.2,0.3 L3.0,1.5 L2.3,9.8 L0.6,9.8 Z" fill="#1c1c1c"/><path d="M19.8,0.3 L17.0,1.5 L17.7,9.8 L19.4,9.8 Z" fill="#1c1c1c"/><line x1="2.6" y1="4.2" x2="17.4" y2="4.2" stroke="#666" stroke-width="1.3"/><line x1="2.6" y1="7.0" x2="17.4" y2="7.0" stroke="#888" stroke-width="1.3"/><line x1="0.5" y1="9.200000000000001" x2="19.5" y2="9.200000000000001" stroke="#1c1c1c" stroke-width="1.4"/></g>
<rect x="416.40000000000003" y="498.0" width="68.1" height="16.4" fill="#c3c3c3" stroke="#2a2a2a" stroke-width="1.6" rx="0.4"/>
<line x1="417.80000000000007" y1="499.3" x2="417.80000000000007" y2="513.1" stroke="#dcdcdc" stroke-width="1"/>
<line x1="417.20000000000005" y1="512.8000000000001" x2="483.7" y2="512.8000000000001" stroke="#a8a8a8" stroke-width="1"/>
<g transform="translate(504.7,487.59999999999997)"><rect x="1.2" y="1.2" width="17.6" height="8.600000000000001" fill="#d6d6d6" stroke="#333" stroke-width="1.4" rx="2"/><path d="M0.2,0.3 L3.0,1.5 L2.3,9.8 L0.6,9.8 Z" fill="#1c1c1c"/><path d="M19.8,0.3 L17.0,1.5 L17.7,9.8 L19.4,9.8 Z" fill="#1c1c1c"/><line x1="2.6" y1="4.2" x2="17.4" y2="4.2" stroke="#666" stroke-width="1.3"/><line x1="2.6" y1="7.0" x2="17.4" y2="7.0" stroke="#888" stroke-width="1.3"/><line x1="0.5" y1="9.200000000000001" x2="19.5" y2="9.200000000000001" stroke="#1c1c1c" stroke-width="1.4"/></g>
<g transform="translate(527.1999999999999,487.59999999999997)"><rect x="1.2" y="1.2" width="17.6" height="8.600000000000001" fill="#d6d6d6" stroke="#333" stroke-width="1.4" rx="2"/><path d="M0.2,0.3 L3.0,1.5 L2.3,9.8 L0.6,9.8 Z" fill="#1c1c1c"/><path d="M19.8,0.3 L17.0,1.5 L17.7,9.8 L19.4,9.8 Z" fill="#1c1c1c"/><line x1="2.6" y1="4.2" x2="17.4" y2="4.2" stroke="#666" stroke-width="1.3"/><line x1="2.6" y1="7.0" x2="17.4" y2="7.0" stroke="#888" stroke-width="1.3"/><line x1="0.5" y1="9.200000000000001" x2="19.5" y2="9.200000000000001" stroke="#1c1c1c" stroke-width="1.4"/></g>
<g transform="translate(549.6999999999999,487.59999999999997)"><rect x="1.2" y="1.2" width="17.6" height="8.600000000000001" fill="#d6d6d6" stroke="#333" stroke-width="1.4" rx="2"/><path d="M0.2,0.3 L3.0,1.5 L2.3,9.8 L0.6,9.8 Z" fill="#1c1c1c"/><path d="M19.8,0.3 L17.0,1.5 L17.7,9.8 L19.4,9.8 Z" fill="#1c1c1c"/><line x1="2.6" y1="4.2" x2="17.4" y2="4.2" stroke="#666" stroke-width="1.3"/><line x1="2.6" y1="7.0" x2="17.4" y2="7.0" stroke="#888" stroke-width="1.3"/><line x1="0.5" y1="9.200000000000001" x2="19.5" y2="9.200000000000001" stroke="#1c1c1c" stroke-width="1.4"/></g>
<rect x="503.3" y="498.0" width="67.79999999999998" height="16.4" fill="#c3c3c3" stroke="#2a2a2a" stroke-width="1.6" rx="0.4"/>
<line x1="504.70000000000005" y1="499.3" x2="504.70000000000005" y2="513.1" stroke="#dcdcdc" stroke-width="1"/>
<line x1="504.1" y1="512.8000000000001" x2="570.3" y2="512.8000000000001" stroke="#a8a8a8" stroke-width="1"/>
<g transform="translate(245.7,532.6)"><rect x="1.2" y="1.2" width="17.6" height="8.600000000000001" fill="#d6d6d6" stroke="#333" stroke-width="1.4" rx="2"/><path d="M0.2,0.3 L3.0,1.5 L2.3,9.8 L0.6,9.8 Z" fill="#1c1c1c"/><path d="M19.8,0.3 L17.0,1.5 L17.7,9.8 L19.4,9.8 Z" fill="#1c1c1c"/><line x1="2.6" y1="4.2" x2="17.4" y2="4.2" stroke="#666" stroke-width="1.3"/><line x1="2.6" y1="7.0" x2="17.4" y2="7.0" stroke="#888" stroke-width="1.3"/><line x1="0.5" y1="9.200000000000001" x2="19.5" y2="9.200000000000001" stroke="#1c1c1c" stroke-width="1.4"/></g>
<g transform="translate(268.34999999999997,532.6)"><rect x="1.2" y="1.2" width="17.6" height="8.600000000000001" fill="#d6d6d6" stroke="#333" stroke-width="1.4" rx="2"/><path d="M0.2,0.3 L3.0,1.5 L2.3,9.8 L0.6,9.8 Z" fill="#1c1c1c"/><path d="M19.8,0.3 L17.0,1.5 L17.7,9.8 L19.4,9.8 Z" fill="#1c1c1c"/><line x1="2.6" y1="4.2" x2="17.4" y2="4.2" stroke="#666" stroke-width="1.3"/><line x1="2.6" y1="7.0" x2="17.4" y2="7.0" stroke="#888" stroke-width="1.3"/><line x1="0.5" y1="9.200000000000001" x2="19.5" y2="9.200000000000001" stroke="#1c1c1c" stroke-width="1.4"/></g>
<g transform="translate(291.0,532.6)"><rect x="1.2" y="1.2" width="17.6" height="8.600000000000001" fill="#d6d6d6" stroke="#333" stroke-width="1.4" rx="2"/><path d="M0.2,0.3 L3.0,1.5 L2.3,9.8 L0.6,9.8 Z" fill="#1c1c1c"/><path d="M19.8,0.3 L17.0,1.5 L17.7,9.8 L19.4,9.8 Z" fill="#1c1c1c"/><line x1="2.6" y1="4.2" x2="17.4" y2="4.2" stroke="#666" stroke-width="1.3"/><line x1="2.6" y1="7.0" x2="17.4" y2="7.0" stroke="#888" stroke-width="1.3"/><line x1="0.5" y1="9.200000000000001" x2="19.5" y2="9.200000000000001" stroke="#1c1c1c" stroke-width="1.4"/></g>
<rect x="244.3" y="543.0" width="68.1" height="16.4" fill="#c3c3c3" stroke="#2a2a2a" stroke-width="1.6" rx="0.4"/>
<line x1="245.7" y1="544.3000000000001" x2="245.7" y2="558.1" stroke="#dcdcdc" stroke-width="1"/>
<line x1="245.1" y1="557.8000000000001" x2="311.59999999999997" y2="557.8000000000001" stroke="#a8a8a8" stroke-width="1"/>
<g transform="translate(332.2,532.6)"><rect x="1.2" y="1.2" width="17.6" height="8.600000000000001" fill="#d6d6d6" stroke="#333" stroke-width="1.4" rx="2"/><path d="M0.2,0.3 L3.0,1.5 L2.3,9.8 L0.6,9.8 Z" fill="#1c1c1c"/><path d="M19.8,0.3 L17.0,1.5 L17.7,9.8 L19.4,9.8 Z" fill="#1c1c1c"/><line x1="2.6" y1="4.2" x2="17.4" y2="4.2" stroke="#666" stroke-width="1.3"/><line x1="2.6" y1="7.0" x2="17.4" y2="7.0" stroke="#888" stroke-width="1.3"/><line x1="0.5" y1="9.200000000000001" x2="19.5" y2="9.200000000000001" stroke="#1c1c1c" stroke-width="1.4"/></g>
<g transform="translate(354.09999999999997,532.6)"><rect x="1.2" y="1.2" width="17.6" height="8.600000000000001" fill="#d6d6d6" stroke="#333" stroke-width="1.4" rx="2"/><path d="M0.2,0.3 L3.0,1.5 L2.3,9.8 L0.6,9.8 Z" fill="#1c1c1c"/><path d="M19.8,0.3 L17.0,1.5 L17.7,9.8 L19.4,9.8 Z" fill="#1c1c1c"/><line x1="2.6" y1="4.2" x2="17.4" y2="4.2" stroke="#666" stroke-width="1.3"/><line x1="2.6" y1="7.0" x2="17.4" y2="7.0" stroke="#888" stroke-width="1.3"/><line x1="0.5" y1="9.200000000000001" x2="19.5" y2="9.200000000000001" stroke="#1c1c1c" stroke-width="1.4"/></g>
<g transform="translate(376.0,532.6)"><rect x="1.2" y="1.2" width="17.6" height="8.600000000000001" fill="#d6d6d6" stroke="#333" stroke-width="1.4" rx="2"/><path d="M0.2,0.3 L3.0,1.5 L2.3,9.8 L0.6,9.8 Z" fill="#1c1c1c"/><path d="M19.8,0.3 L17.0,1.5 L17.7,9.8 L19.4,9.8 Z" fill="#1c1c1c"/><line x1="2.6" y1="4.2" x2="17.4" y2="4.2" stroke="#666" stroke-width="1.3"/><line x1="2.6" y1="7.0" x2="17.4" y2="7.0" stroke="#888" stroke-width="1.3"/><line x1="0.5" y1="9.200000000000001" x2="19.5" y2="9.200000000000001" stroke="#1c1c1c" stroke-width="1.4"/></g>
<rect x="330.8" y="543.0" width="66.6" height="16.4" fill="#c3c3c3" stroke="#2a2a2a" stroke-width="1.6" rx="0.4"/>
<line x1="332.20000000000005" y1="544.3000000000001" x2="332.20000000000005" y2="558.1" stroke="#dcdcdc" stroke-width="1"/>
<line x1="331.6" y1="557.8000000000001" x2="396.59999999999997" y2="557.8000000000001" stroke="#a8a8a8" stroke-width="1"/>
<g transform="translate(417.8,532.6)"><rect x="1.2" y="1.2" width="17.6" height="8.600000000000001" fill="#d6d6d6" stroke="#333" stroke-width="1.4" rx="2"/><path d="M0.2,0.3 L3.0,1.5 L2.3,9.8 L0.6,9.8 Z" fill="#1c1c1c"/><path d="M19.8,0.3 L17.0,1.5 L17.7,9.8 L19.4,9.8 Z" fill="#1c1c1c"/><line x1="2.6" y1="4.2" x2="17.4" y2="4.2" stroke="#666" stroke-width="1.3"/><line x1="2.6" y1="7.0" x2="17.4" y2="7.0" stroke="#888" stroke-width="1.3"/><line x1="0.5" y1="9.200000000000001" x2="19.5" y2="9.200000000000001" stroke="#1c1c1c" stroke-width="1.4"/></g>
<g transform="translate(440.45,532.6)"><rect x="1.2" y="1.2" width="17.6" height="8.600000000000001" fill="#d6d6d6" stroke="#333" stroke-width="1.4" rx="2"/><path d="M0.2,0.3 L3.0,1.5 L2.3,9.8 L0.6,9.8 Z" fill="#1c1c1c"/><path d="M19.8,0.3 L17.0,1.5 L17.7,9.8 L19.4,9.8 Z" fill="#1c1c1c"/><line x1="2.6" y1="4.2" x2="17.4" y2="4.2" stroke="#666" stroke-width="1.3"/><line x1="2.6" y1="7.0" x2="17.4" y2="7.0" stroke="#888" stroke-width="1.3"/><line x1="0.5" y1="9.200000000000001" x2="19.5" y2="9.200000000000001" stroke="#1c1c1c" stroke-width="1.4"/></g>
<g transform="translate(463.1,532.6)"><rect x="1.2" y="1.2" width="17.6" height="8.600000000000001" fill="#d6d6d6" stroke="#333" stroke-width="1.4" rx="2"/><path d="M0.2,0.3 L3.0,1.5 L2.3,9.8 L0.6,9.8 Z" fill="#1c1c1c"/><path d="M19.8,0.3 L17.0,1.5 L17.7,9.8 L19.4,9.8 Z" fill="#1c1c1c"/><line x1="2.6" y1="4.2" x2="17.4" y2="4.2" stroke="#666" stroke-width="1.3"/><line x1="2.6" y1="7.0" x2="17.4" y2="7.0" stroke="#888" stroke-width="1.3"/><line x1="0.5" y1="9.200000000000001" x2="19.5" y2="9.200000000000001" stroke="#1c1c1c" stroke-width="1.4"/></g>
<rect x="416.40000000000003" y="543.0" width="68.1" height="16.4" fill="#c3c3c3" stroke="#2a2a2a" stroke-width="1.6" rx="0.4"/>
<line x1="417.80000000000007" y1="544.3000000000001" x2="417.80000000000007" y2="558.1" stroke="#dcdcdc" stroke-width="1"/>
<line x1="417.20000000000005" y1="557.8000000000001" x2="483.7" y2="557.8000000000001" stroke="#a8a8a8" stroke-width="1"/>
<g transform="translate(504.7,532.6)"><rect x="1.2" y="1.2" width="17.6" height="8.600000000000001" fill="#d6d6d6" stroke="#333" stroke-width="1.4" rx="2"/><path d="M0.2,0.3 L3.0,1.5 L2.3,9.8 L0.6,9.8 Z" fill="#1c1c1c"/><path d="M19.8,0.3 L17.0,1.5 L17.7,9.8 L19.4,9.8 Z" fill="#1c1c1c"/><line x1="2.6" y1="4.2" x2="17.4" y2="4.2" stroke="#666" stroke-width="1.3"/><line x1="2.6" y1="7.0" x2="17.4" y2="7.0" stroke="#888" stroke-width="1.3"/><line x1="0.5" y1="9.200000000000001" x2="19.5" y2="9.200000000000001" stroke="#1c1c1c" stroke-width="1.4"/></g>
<g transform="translate(527.1999999999999,532.6)"><rect x="1.2" y="1.2" width="17.6" height="8.600000000000001" fill="#d6d6d6" stroke="#333" stroke-width="1.4" rx="2"/><path d="M0.2,0.3 L3.0,1.5 L2.3,9.8 L0.6,9.8 Z" fill="#1c1c1c"/><path d="M19.8,0.3 L17.0,1.5 L17.7,9.8 L19.4,9.8 Z" fill="#1c1c1c"/><line x1="2.6" y1="4.2" x2="17.4" y2="4.2" stroke="#666" stroke-width="1.3"/><line x1="2.6" y1="7.0" x2="17.4" y2="7.0" stroke="#888" stroke-width="1.3"/><line x1="0.5" y1="9.200000000000001" x2="19.5" y2="9.200000000000001" stroke="#1c1c1c" stroke-width="1.4"/></g>
<g transform="translate(549.6999999999999,532.6)"><rect x="1.2" y="1.2" width="17.6" height="8.600000000000001" fill="#d6d6d6" stroke="#333" stroke-width="1.4" rx="2"/><path d="M0.2,0.3 L3.0,1.5 L2.3,9.8 L0.6,9.8 Z" fill="#1c1c1c"/><path d="M19.8,0.3 L17.0,1.5 L17.7,9.8 L19.4,9.8 Z" fill="#1c1c1c"/><line x1="2.6" y1="4.2" x2="17.4" y2="4.2" stroke="#666" stroke-width="1.3"/><line x1="2.6" y1="7.0" x2="17.4" y2="7.0" stroke="#888" stroke-width="1.3"/><line x1="0.5" y1="9.200000000000001" x2="19.5" y2="9.200000000000001" stroke="#1c1c1c" stroke-width="1.4"/></g>
<rect x="503.3" y="543.0" width="67.79999999999998" height="16.4" fill="#c3c3c3" stroke="#2a2a2a" stroke-width="1.6" rx="0.4"/>
<line x1="504.70000000000005" y1="544.3000000000001" x2="504.70000000000005" y2="558.1" stroke="#dcdcdc" stroke-width="1"/>
<line x1="504.1" y1="557.8000000000001" x2="570.3" y2="557.8000000000001" stroke="#a8a8a8" stroke-width="1"/>
<rect x="391.8" y="592.6" width="32.4" height="17.8" fill="#c2c2c2" stroke="#2a2a2a" stroke-width="1.6" />
</svg>
</body></html>
